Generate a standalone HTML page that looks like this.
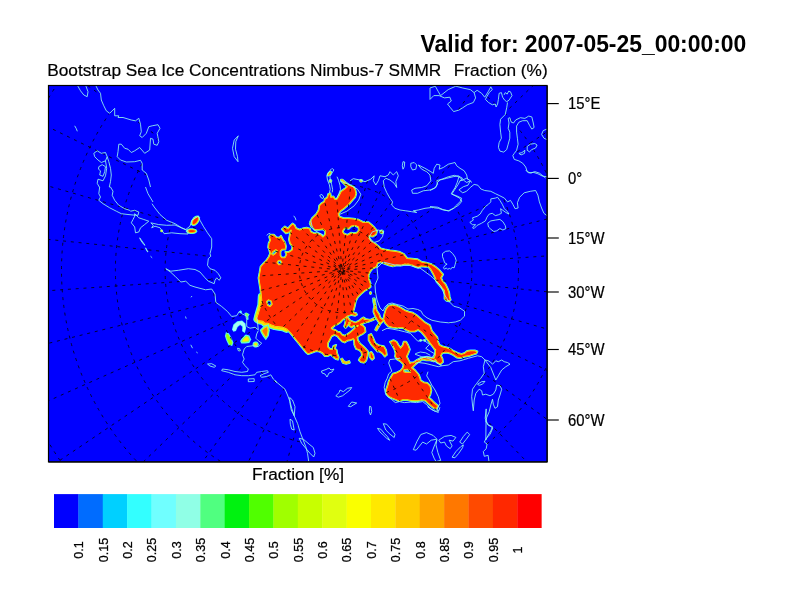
<!DOCTYPE html>
<html><head><meta charset="utf-8"><title>Sea Ice</title>
<style>html,body{margin:0;padding:0;background:#fff}svg{display:block}text{font-family:"Liberation Sans",Arial,Helvetica,sans-serif;fill:#000}</style></head><body>
<svg width="792" height="612" viewBox="0 0 792 612">
<rect width="792" height="612" fill="#fff"/>
<defs><clipPath id="fr"><rect x="48.5" y="85.5" width="498.5" height="376.3"/></clipPath>
<clipPath id="oc"><path clip-rule="evenodd" d="M48.5,461.8L308.7,461.8L308.7,461.5L307.5,453.3L305.8,446.7L302.5,438.3L300.0,431.7L297.5,423.3L294.2,415.8L291.7,408.3L290.0,401.7L287.5,395.0L285.0,389.2L280.0,385.0L276.0,381.7L273.3,379.0L270.8,374.8L266.7,376.5L261.7,377.3L260.0,375.7L263.3,374.0L268.3,372.3L267.5,370.7L261.7,371.5L256.7,372.3L255.0,374.8L248.3,375.7L241.7,375.7L235.0,374.8L228.3,372.3L221.7,370.7L222.5,369.0L228.3,369.8L235.0,371.5L241.7,372.3L247.5,371.5L248.3,369.0L245.0,365.7L242.5,362.3L244.2,359.0L242.5,354.8L244.2,349.0L246.7,346.5L253.3,345.7L258.3,346.5L261.7,343.2L258.3,340.7L255.8,338.2L256.7,334.0L258.3,330.7L258.1,329.7L255.0,327.3L250.0,328.2L246.7,326.5L246.7,319.8L245.8,315.7L242.5,314.0L239.2,311.5L236.7,315.7L231.7,316.5L227.5,311.5L221.7,306.5L215.8,302.3L215.0,294.0L211.7,289.0L205.6,289.8L195.0,287.0L190.0,285.3L185.8,281.2L180.8,282.0L175.0,276.2L170.8,272.3L165.8,268.7L170.8,271.2L178.3,270.3L188.3,268.7L195.0,269.5L200.0,272.0L205.0,277.8L208.3,281.2L214.2,283.7L215.0,280.3L216.7,277.8L219.2,280.3L220.8,277.8L218.3,273.7L215.0,270.3L210.0,268.7L207.5,265.3L208.3,258.7L210.8,256.2L210.0,253.7L211.7,247.0L211.7,238.7L207.5,232.8L203.3,226.2L200.0,220.3L198.3,216.2L191.7,220.3L190.0,226.2L185.8,229.5L181.7,227.8L175.0,223.7L166.7,220.3L160.0,214.5L154.2,207.0L153.0,202.0L148.0,193.7L150.5,187.0L148.8,180.0L146.3,173.3L142.2,170.0L142.2,163.3L140.5,160.3L134.7,161.7L126.3,162.0L120.5,160.0L117.2,156.7L118.0,151.7L118.8,144.2L121.3,144.2L124.7,148.3L128.0,149.2L131.3,152.5L134.7,150.8L139.7,147.5L144.7,153.3L149.7,150.0L150.5,138.3L153.0,139.2L153.8,144.2L157.2,145.3L158.8,141.7L157.2,133.3L160.0,128.3L158.0,124.7L152.2,125.8L148.8,126.7L146.3,133.3L142.2,137.5L139.7,135.8L141.3,131.7L140.5,124.2L138.8,118.3L135.5,120.8L131.3,120.0L123.0,117.5L118.0,117.5L118.8,115.8L114.7,115.8L114.7,108.3L109.7,113.3L106.3,110.8L103.8,105.8L101.3,100.0L100.5,93.3L98.0,90.0L95.8,85.5L48.5,85.5ZM490.8,85.5L490.8,86.8L492.3,89.6L489.2,92.6L487.0,96.4L485.4,99.4L488.5,102.5L492.3,104.8L495.3,104.0L496.1,107.0L497.6,104.0L498.4,99.4L499.1,93.3L501.4,92.6L502.6,97.2L504.7,100.2L506.7,101.7L507.0,101.5L507.5,102.5L506.7,107.8L505.2,114.6L500.6,119.2L499.9,124.5L500.6,132.1L501.4,138.2L499.1,142.7L498.4,147.3L499.9,151.1L503.7,152.1L506.7,149.6L508.2,144.2L509.8,138.2L509.8,132.1L508.2,128.3L509.0,123.0L508.2,118.4L509.8,117.7L511.3,122.2L513.5,123.0L515.8,119.9L520.4,117.7L524.9,118.4L528.7,116.1L531.8,116.9L533.3,123.0L534.1,127.5L531.8,129.1L529.5,125.3L527.2,120.7L522.7,120.7L518.9,122.2L516.6,126.0L516.6,132.1L517.4,138.2L518.1,144.2L516.6,150.3L514.3,153.4L512.8,155.6L514.3,159.4L518.9,160.9L522.7,163.2L525.7,167.0L527.2,171.6L531.0,173.1L534.8,171.6L539.4,173.1L543.2,176.1L545.5,178.0L547.0,178.0L547.0,85.5ZM547.0,215.7L543.9,213.3L541.6,208.0L539.4,201.9L537.9,195.1L535.6,190.5L530.3,191.3L524.2,192.8L519.6,197.3L517.4,202.7L518.1,208.0L515.1,208.7L512.8,204.2L510.5,200.4L507.5,201.9L504.4,198.1L499.9,195.8L495.3,193.6L490.8,191.3L484.7,190.5L480.9,189.0L477.9,185.2L474.1,184.4L470.3,187.5L466.5,191.3L462.7,192.8L458.9,189.8L461.7,198.3L460.0,201.7L456.7,205.0L453.3,208.3L448.3,210.8L443.3,210.0L438.3,208.3L431.7,207.5L425.0,208.3L418.3,210.0L413.3,210.8L416.7,212.5L411.7,211.7L405.8,210.8L400.0,210.0L395.0,208.3L391.7,205.0L392.5,201.7L390.0,198.3L386.7,192.5L384.2,186.7L383.3,180.8L385.8,178.3L390.0,180.0L394.2,183.3L396.7,187.5L395.8,181.7L398.3,175.8L396.7,171.7L393.3,175.0L390.0,171.7L388.3,175.0L385.0,176.7L380.0,175.8L378.3,180.8L375.8,185.0L373.3,180.8L374.2,175.8L370.8,179.2L365.0,181.7L360.0,180.0L353.3,178.7L350.0,180.8L343.3,180.0L342.7,179.5L342.7,179.5L342.7,179.5L342.6,179.5L342.6,179.5L342.6,179.5L342.6,179.5L342.5,179.4L341.0,179.4L341.0,179.5L341.0,179.5L340.9,179.5L340.9,179.5L340.9,179.5L340.8,179.5L340.8,179.5L340.8,179.5L340.8,179.6L340.8,179.6L340.7,179.6L340.7,179.6L340.7,179.7L340.7,179.7L340.7,179.7L340.7,179.8L340.7,179.8L340.7,179.8L340.7,179.8L341.2,181.4L341.2,181.4L341.3,181.4L341.3,181.4L341.3,181.5L341.3,181.5L344.3,184.5L346.6,186.8L344.4,188.6L340.8,191.1L340.8,191.2L340.8,191.2L340.8,191.2L340.8,191.2L340.7,191.3L338.7,195.3L336.8,198.7L335.1,198.7L333.7,196.3L333.7,196.3L333.6,196.3L333.6,196.2L333.6,196.2L333.6,196.2L333.5,196.2L333.5,196.2L333.5,196.2L333.5,196.2L333.4,196.2L333.4,196.2L333.4,196.2L331.1,196.6L330.7,193.4L330.7,193.3L330.7,193.3L330.7,193.3L330.6,193.3L330.6,193.2L330.6,193.2L330.6,193.2L330.6,193.2L330.5,193.2L330.5,193.1L330.5,193.1L330.5,193.1L330.4,193.1L330.4,193.1L330.4,193.1L330.3,193.1L330.3,193.1L328.3,193.6L328.3,193.6L328.2,193.6L328.2,193.7L328.2,193.7L328.2,193.7L328.1,193.7L328.1,193.7L328.1,193.8L328.1,193.8L328.1,193.8L328.1,193.8L327.1,197.3L324.7,198.7L324.6,198.8L324.6,198.8L324.6,198.8L324.6,198.8L324.5,198.8L324.5,198.9L324.5,198.9L324.5,198.9L324.0,201.3L321.6,202.8L321.6,202.8L321.6,202.8L319.0,205.4L319.0,205.4L319.0,205.4L319.0,205.4L319.0,205.5L319.0,205.5L318.9,205.5L318.9,205.5L318.4,210.0L316.0,214.0L311.9,218.0L311.9,218.0L311.9,218.1L311.9,218.1L309.9,221.8L309.9,221.9L309.8,221.9L309.8,221.9L309.5,223.5L309.5,223.6L309.5,223.6L309.5,223.6L309.5,223.6L309.5,223.7L309.5,223.7L309.5,223.7L311.0,226.8L311.0,226.8L311.0,226.8L311.1,226.8L311.1,226.9L314.6,229.9L314.6,229.9L314.7,229.9L314.7,229.9L314.7,230.0L314.7,230.0L314.8,230.0L314.8,230.0L318.9,230.0L318.9,230.0L322.8,229.5L325.1,231.3L324.7,234.6L322.9,236.3L321.1,234.5L321.1,234.5L321.1,234.5L321.0,234.5L321.0,234.5L317.5,232.9L317.4,232.9L317.4,232.9L317.4,232.9L317.3,232.9L313.9,232.9L311.0,231.5L310.0,228.6L310.0,228.5L310.0,228.5L310.0,228.5L310.0,228.5L310.0,228.4L309.9,228.4L309.9,228.4L309.9,228.4L309.8,228.4L306.8,227.4L306.8,227.4L306.7,227.4L306.7,227.4L306.7,227.4L306.7,227.4L303.6,227.9L303.6,227.9L303.6,227.9L299.6,229.3L296.3,227.9L294.8,225.0L294.8,225.0L294.8,224.9L294.8,224.9L294.8,224.9L294.7,224.9L292.7,223.3L292.7,223.3L292.7,223.3L292.6,223.3L292.6,223.3L292.6,223.3L292.6,223.3L292.5,223.3L292.5,223.3L292.5,223.3L292.4,223.3L292.4,223.3L292.4,223.3L292.4,223.3L292.3,223.4L292.3,223.4L289.8,225.9L289.8,225.9L287.9,228.3L285.1,226.4L285.1,226.4L285.1,226.4L285.0,226.3L285.0,226.3L285.0,226.3L284.9,226.3L284.9,226.3L284.9,226.3L284.9,226.3L284.8,226.4L284.8,226.4L284.8,226.4L284.7,226.4L281.7,228.9L281.7,228.9L281.7,229.0L281.6,229.0L281.6,229.0L281.6,229.0L281.6,229.1L281.6,229.1L281.6,229.1L281.6,229.2L281.6,229.2L281.6,229.2L281.6,229.2L281.6,229.3L281.6,229.3L281.7,229.3L281.7,229.3L281.7,229.4L283.7,231.4L283.7,231.4L285.7,233.4L285.8,233.5L285.8,233.5L285.8,233.5L285.8,233.5L285.9,233.5L285.9,233.5L285.9,233.5L286.0,233.5L286.0,233.5L286.0,233.5L286.0,233.5L289.1,232.5L289.1,232.5L289.1,232.5L289.2,232.4L289.2,232.4L289.2,232.4L290.5,231.2L289.7,234.2L289.7,234.2L288.7,239.2L288.7,239.3L288.7,239.3L288.7,239.3L288.7,239.4L289.7,243.4L289.7,243.4L289.7,243.5L289.7,243.5L289.8,243.5L289.8,243.5L292.2,246.5L291.8,249.7L288.9,251.6L285.4,251.6L285.4,251.7L285.4,251.7L285.4,251.7L285.3,251.7L285.3,251.7L285.3,251.7L285.3,251.7L285.2,251.7L285.2,251.8L285.2,251.8L285.2,251.8L285.2,251.8L285.2,251.9L285.1,251.9L285.1,251.9L285.1,251.9L285.1,252.0L285.1,252.0L285.2,252.0L285.2,252.1L286.1,254.5L284.8,257.2L282.1,257.2L280.7,255.4L280.7,251.6L282.5,249.7L285.4,249.7L285.5,249.7L285.5,249.7L285.5,249.7L285.6,249.7L285.6,249.7L285.6,249.7L285.6,249.6L285.7,249.6L285.7,249.6L285.7,249.6L285.7,249.6L285.7,249.5L285.7,249.5L285.7,249.5L286.2,246.4L286.2,246.4L286.2,246.4L286.2,246.3L286.2,246.3L285.2,242.3L285.2,242.2L285.2,242.2L285.2,242.2L285.2,242.1L283.2,239.6L281.2,235.6L281.1,235.6L281.1,235.6L281.1,235.5L281.1,235.5L281.1,235.5L281.0,235.5L281.0,235.5L281.0,235.5L281.0,235.5L280.9,235.5L280.9,235.5L280.9,235.5L280.8,235.5L280.8,235.5L280.8,235.5L280.8,235.5L280.7,235.5L280.7,235.5L280.7,235.5L280.7,235.5L280.7,235.6L279.2,237.4L276.5,237.0L274.0,234.5L274.0,234.5L274.0,234.5L273.9,234.5L273.9,234.5L273.9,234.4L273.9,234.4L273.8,234.4L273.8,234.4L270.8,234.4L270.7,234.4L270.7,234.4L270.7,234.4L270.6,234.5L270.6,234.5L270.6,234.5L270.6,234.5L270.5,234.5L270.5,234.6L269.0,236.6L269.0,236.6L269.0,236.6L269.0,236.7L268.9,236.7L268.9,236.7L268.9,236.8L268.9,236.8L268.9,236.8L269.0,236.8L269.9,240.3L268.5,243.2L268.4,243.2L268.4,243.3L268.4,243.3L267.9,247.4L267.9,247.4L267.9,247.4L267.9,247.4L267.9,247.5L267.9,247.5L268.0,247.5L269.0,249.5L269.9,253.4L268.5,256.9L266.0,260.4L263.5,262.9L263.4,262.9L260.4,266.4L260.4,266.5L260.4,266.5L260.4,266.5L260.3,266.5L260.3,266.6L260.3,266.6L259.3,272.7L258.3,277.9L258.3,277.9L258.3,278.0L258.3,278.0L258.3,278.0L260.2,290.0L260.7,295.1L260.7,295.1L261.2,300.1L260.2,305.1L258.7,310.2L257.2,315.2L255.7,319.3L255.7,319.3L255.7,319.3L255.7,319.4L255.7,319.4L255.7,319.4L255.7,319.4L255.7,319.5L255.7,319.5L255.7,319.5L255.7,319.5L255.7,319.6L255.7,319.6L255.8,319.6L255.8,319.6L255.8,319.6L258.9,321.2L258.9,321.2L258.9,321.2L258.9,321.2L262.4,321.7L264.3,323.6L264.4,323.7L264.4,323.7L264.4,323.7L264.4,323.7L264.5,323.7L264.5,323.7L264.5,323.7L264.6,323.7L267.5,323.7L270.5,325.2L270.5,325.2L274.6,326.7L274.6,326.8L274.6,326.8L278.7,327.3L282.7,327.8L286.7,329.7L289.6,332.7L292.7,336.3L292.7,336.3L292.7,336.3L292.8,336.4L292.8,336.5L292.8,336.5L292.8,336.5L296.9,341.6L296.9,341.6L301.9,347.7L306.0,352.7L306.0,352.7L306.0,352.8L306.0,352.8L308.1,354.3L308.1,354.3L308.1,354.3L308.1,354.3L308.2,354.3L308.2,354.3L308.2,354.3L308.2,354.3L308.3,354.3L308.3,354.3L308.3,354.3L312.4,352.8L316.4,351.3L319.3,351.8L322.2,353.3L324.7,356.3L324.7,356.3L324.8,356.3L324.8,356.3L324.8,356.3L324.8,356.4L324.9,356.4L324.9,356.4L324.9,356.4L324.9,356.4L327.5,356.4L327.5,356.4L327.5,356.4L327.6,356.4L327.6,356.4L327.6,356.3L328.1,356.1L332.3,356.4L333.3,357.3L333.4,357.3L335.9,359.3L335.9,359.4L335.9,359.4L336.0,359.4L336.0,359.4L338.0,359.9L338.1,359.9L338.1,359.9L338.1,359.9L338.1,359.9L338.2,359.9L338.2,359.9L338.2,359.9L338.3,359.9L338.3,359.9L338.3,359.8L338.3,359.8L338.3,359.8L338.4,359.8L338.4,359.7L338.4,359.7L338.4,359.7L338.9,357.1L338.9,357.1L338.9,357.1L338.9,357.1L338.9,357.0L338.9,357.0L338.9,357.0L337.4,353.5L336.9,350.0L336.9,349.9L336.9,349.9L336.9,349.9L336.8,349.8L336.8,349.8L336.8,349.8L336.8,349.8L336.8,349.8L334.9,348.4L336.4,345.1L336.4,345.0L336.4,345.0L336.4,345.0L336.4,344.9L336.4,344.9L336.4,344.9L336.4,344.9L336.4,344.8L336.3,344.8L336.3,344.8L336.3,344.8L336.3,344.7L336.3,344.7L336.3,344.7L336.2,344.7L336.2,344.7L336.2,344.7L336.1,344.6L336.1,344.6L336.1,344.6L336.1,344.6L336.0,344.6L336.0,344.7L336.0,344.7L333.4,345.7L333.4,345.7L333.4,345.7L333.4,345.7L333.3,345.7L333.3,345.8L333.3,345.8L333.3,345.8L333.3,345.8L333.3,345.9L332.3,348.7L330.1,348.7L328.3,346.8L328.3,343.0L330.3,339.5L330.3,339.5L331.7,336.6L334.6,335.1L337.4,336.6L339.4,339.0L339.4,339.1L341.9,341.6L342.0,341.6L342.0,341.6L342.0,341.7L342.0,341.7L344.6,342.7L344.6,342.7L344.6,342.7L344.7,342.7L344.7,342.7L344.7,342.7L344.7,342.7L344.8,342.7L344.8,342.7L344.8,342.7L344.8,342.7L347.8,340.7L350.8,340.2L350.8,340.2L350.9,340.1L353.2,339.2L353.9,340.4L353.8,340.6L353.8,340.6L353.8,340.7L353.8,340.7L353.8,340.7L353.8,340.8L353.8,340.8L354.1,343.8L354.0,344.4L354.0,344.4L354.0,344.4L354.0,344.5L354.0,344.5L354.0,344.5L354.0,344.5L354.0,344.6L354.1,344.6L354.2,344.8L354.3,345.4L354.3,345.4L354.3,345.4L354.3,345.4L355.8,349.0L355.8,349.0L355.8,349.0L355.8,349.1L355.9,349.1L355.9,349.1L355.9,349.1L355.9,349.1L356.0,349.1L356.0,349.1L358.9,350.1L361.4,352.6L361.8,355.7L360.2,357.4L360.2,357.4L360.1,357.4L360.1,357.4L359.9,357.7L359.4,358.3L359.4,358.3L359.4,358.3L359.4,358.3L359.3,358.4L359.3,358.4L359.3,358.4L359.3,358.5L359.3,358.5L359.3,358.5L359.3,358.5L359.3,358.6L359.4,358.7L358.6,360.0L358.6,360.0L358.6,360.0L345.2,358.6L350.0,360.0L362.0,364.0L372.0,366.0L385.0,365.0L389.0,363.8L390.2,367.2L391.8,371.2L388.7,373.8L387.2,378.3L385.2,382.4L384.2,387.4L385.2,392.5L385.9,393.6L385.9,394.0L385.9,394.1L385.9,394.1L385.9,394.1L385.9,394.1L385.9,394.2L386.0,394.2L386.0,394.2L386.0,394.2L386.7,395.0L387.7,396.6L391.8,399.6L395.3,402.6L399.4,401.6L404.4,402.6L410.5,402.1L416.6,402.6L422.7,401.6L426.7,404.7L428.8,406.7L427.5,406.7L431.7,409.7L433.6,410.5L434.8,411.2L435.2,411.2L438.3,412.5L438.0,410.8L438.9,410.7L439.9,407.2L438.1,407.1L440.0,403.3L438.3,396.7L435.0,390.0L431.7,385.0L429.2,380.0L426.7,375.8L428.0,371.7L420.2,361.2L422.6,359.8L426.2,360.5L426.3,360.5L426.3,360.5L430.0,360.5L433.8,361.7L433.8,361.7L433.9,361.7L433.9,361.7L433.9,361.7L433.9,361.7L434.0,361.7L434.0,361.7L434.0,361.6L434.0,361.6L434.1,361.6L434.1,361.6L434.1,361.6L434.3,361.3L435.0,361.7L441.7,365.8L448.3,365.0L453.3,361.7L460.0,360.8L468.3,358.3L477.5,355.8L481.7,356.7L485.0,360.0L483.3,366.7L484.2,373.3L480.8,378.3L476.7,383.3L472.5,389.2L471.7,396.7L472.5,405.0L473.3,410.8L474.2,400.0L475.8,393.3L479.2,389.2L481.7,390.8L482.5,395.0L485.8,394.2L490.0,395.8L493.3,394.2L495.8,390.0L496.7,385.0L500.0,385.8L501.7,389.2L500.0,395.0L498.3,400.0L497.5,406.7L495.0,408.3L493.3,404.2L492.5,399.2L490.8,405.0L489.2,411.7L486.7,417.5L486.1,420.4L487.7,424.1L488.3,425.0L492.5,426.7L492.2,427.5L492.8,427.9L490.0,434.5L487.2,437.3L485.8,440.0L485.8,439.0L484.3,442.1L487.1,444.0L486.2,448.7L483.3,451.6L484.3,456.3L488.1,455.3L489.0,461.6L489.0,461.8L547.0,461.8ZM339.4,323.3L340.8,322.4L340.8,322.4L340.8,322.4L340.9,322.3L341.8,321.2L344.1,319.1L345.3,318.4L345.3,320.7L345.0,323.4L343.9,326.2L343.9,326.3L343.9,326.3L343.9,326.3L343.9,326.3L343.9,326.4L343.9,326.4L343.9,326.4L343.9,326.5L343.9,326.5L343.9,326.5L344.0,326.5L344.0,326.6L345.4,328.0L345.4,328.0L345.4,328.0L345.5,328.0L345.5,328.0L345.5,328.0L345.6,328.0L345.6,328.0L345.6,328.0L345.6,328.0L345.7,328.0L345.7,328.0L345.7,328.0L345.8,328.0L345.8,328.0L345.8,328.0L345.8,328.0L347.2,326.6L347.3,326.5L348.5,325.0L350.0,326.6L350.0,326.6L350.1,326.6L351.8,327.7L351.8,327.7L351.9,327.7L351.9,327.7L351.9,327.7L352.0,327.7L352.0,327.7L352.0,327.7L352.0,327.7L352.1,327.7L352.1,327.7L352.1,327.7L352.1,327.6L352.2,327.6L352.2,327.6L352.2,327.6L353.4,326.1L355.5,326.6L353.6,329.0L350.6,331.5L347.1,334.0L344.7,335.5L342.3,334.6L340.4,332.1L340.3,332.1L340.3,332.1L340.3,332.0L340.3,332.0L340.2,332.0L340.2,332.0L340.2,332.0L337.7,331.5L335.8,330.0L335.7,330.0L335.7,330.0L335.7,330.0L333.0,329.1ZM368.0,291.0L370.2,293.8L372.0,292.0L376.0,300.0L378.3,303.4L377.0,300.0L375.5,292.0L375.0,285.0L378.0,278.0L377.0,268.0L382.0,263.0L384.6,264.0L388.6,265.5L388.7,265.5L392.7,266.5L392.7,266.5L392.8,266.5L392.8,266.5L392.8,266.5L392.9,266.5L396.9,265.5L400.4,265.9L400.5,265.9L400.5,265.9L400.5,265.9L400.6,265.9L402.2,265.5L402.2,265.5L402.9,265.3L410.0,265.5L413.9,266.5L415.1,267.0L415.1,267.1L418.1,268.1L418.2,268.1L418.2,268.1L418.2,268.1L418.3,268.1L418.3,268.1L418.3,268.1L418.3,268.1L418.4,268.1L419.0,267.8L420.0,268.0L430.9,276.0L436.0,281.0L436.2,281.6L436.2,281.6L436.2,281.6L436.2,281.7L438.8,284.7L438.8,284.7L441.3,287.7L441.7,288.2L444.2,294.0L444.3,294.6L444.3,298.7L444.3,298.7L444.3,298.7L444.3,298.8L444.3,298.8L444.3,298.8L444.3,298.8L444.3,298.9L444.3,298.9L446.4,300.9L446.4,300.9L446.4,301.0L446.4,301.0L446.5,301.0L446.5,301.0L446.5,301.0L449.1,301.5L449.1,301.5L449.1,301.5L449.1,301.5L453.7,306.2L459.5,307.8L464.5,311.2L464.5,316.2L460.3,320.3L455.3,322.0L448.7,322.8L440.3,322.0L432.0,320.3L427.0,317.8L422.8,314.5L421.2,311.2L417.8,309.5L413.0,308.5L408.0,309.0L403.0,306.0L397.0,304.5L392.0,303.0L388.0,304.0L385.0,307.0L383.1,310.7L384.0,312.0L384.2,314.0L384.1,314.2L384.1,314.2L383.1,319.3L383.1,319.3L383.1,319.4L383.1,319.4L383.1,319.4L383.1,319.4L380.6,317.7L379.4,314.2L379.4,314.2L379.4,314.1L376.8,310.1L376.2,306.2L376.2,306.2L375.0,298.6L375.0,298.5L375.0,298.5L375.0,298.5L375.0,298.5L374.9,298.4L374.9,298.4L374.9,298.4L374.9,298.4L374.9,298.3L374.8,298.3L374.8,298.3L374.8,298.3L374.7,298.3L374.7,298.3L373.1,298.3L373.1,298.3L373.0,298.3L373.0,298.3L373.0,298.3L373.0,298.3L372.9,298.4L372.9,298.4L372.9,298.4L372.9,298.4L372.8,298.4L372.8,298.5L372.8,298.5L372.8,298.5L372.8,298.5L372.8,298.6L372.8,298.6L372.8,298.6L372.8,298.7L374.0,306.8L374.2,308.1L373.9,308.0L373.9,307.9L373.9,307.9L373.8,307.9L373.8,307.9L373.8,307.9L373.7,307.9L373.7,307.9L373.7,308.0L373.7,308.0L373.6,308.0L373.6,308.0L373.6,308.0L373.6,308.0L373.5,308.1L373.5,308.1L373.5,308.1L373.5,308.1L373.5,308.2L373.5,308.2L373.2,311.9L373.2,311.9L373.2,311.9L373.2,311.9L373.2,312.0L373.2,312.0L374.8,316.1L374.8,316.2L376.9,319.8L376.9,319.8L378.7,322.6L378.7,322.6L378.7,322.6L378.8,322.6L378.8,322.7L378.8,322.7L378.8,322.7L378.9,322.7L378.9,322.7L379.1,322.8L376.6,326.3L376.6,326.3L376.6,326.3L375.0,329.6L375.0,329.6L375.0,329.6L375.0,329.7L375.0,329.7L375.0,329.7L375.0,329.8L375.0,329.8L375.0,329.8L375.1,329.8L375.1,329.9L375.1,329.9L375.1,329.9L375.1,329.9L375.2,329.9L376.4,330.8L376.4,330.8L376.4,330.8L376.4,330.8L376.5,330.8L376.5,330.8L376.5,330.8L376.6,330.8L376.6,330.8L376.6,330.8L376.6,330.8L376.7,330.8L376.7,330.8L376.7,330.7L376.7,330.7L376.8,330.7L376.8,330.7L376.8,330.6L378.1,328.1L380.6,324.1L383.8,320.9L385.2,323.6L385.2,323.6L385.2,323.6L385.2,323.6L385.3,323.7L385.9,329.5L390.0,327.1L392.5,327.8L392.5,327.8L397.6,328.3L397.6,328.3L397.7,328.3L402.0,330.0L412.0,333.0L420.0,336.0L428.0,343.0L434.0,351.0L432.0,357.0L430.7,357.4L429.4,357.3L424.8,356.9L424.8,356.9L424.8,356.9L424.7,356.9L420.9,357.7L420.9,357.7L420.9,357.7L420.9,357.7L417.1,359.6L417.1,359.6L417.0,359.6L414.0,361.7L409.4,361.2L408.5,359.4L408.5,359.4L407.0,356.5L408.5,353.6L408.5,353.5L410.0,349.5L410.0,349.4L410.0,349.4L410.0,349.4L410.0,349.4L410.0,349.3L410.0,349.3L410.0,349.3L408.5,345.2L408.5,345.2L408.5,345.2L406.5,341.6L406.4,341.6L406.4,341.6L406.4,341.6L406.4,341.5L406.4,341.5L406.3,341.5L406.3,341.5L406.3,341.5L406.3,341.5L406.2,341.5L406.2,341.5L403.7,341.5L403.6,341.5L403.6,341.5L403.6,341.5L403.6,341.5L403.5,341.5L403.5,341.5L403.5,341.5L403.5,341.6L403.4,341.6L403.4,341.6L403.4,341.6L403.4,341.7L403.4,341.7L402.4,345.2L400.6,347.4L398.9,345.2L396.8,341.6L396.8,341.6L396.8,341.6L396.8,341.6L396.8,341.5L396.7,341.5L396.7,341.5L393.7,340.0L393.6,340.0L393.6,340.0L393.6,340.0L393.6,340.0L393.5,340.0L393.5,340.0L393.5,340.0L393.4,340.0L393.4,340.0L389.9,341.5L389.9,341.5L389.8,341.5L389.8,341.5L389.8,341.6L389.8,341.6L389.7,341.6L389.7,341.6L389.7,341.7L389.7,341.7L389.7,341.7L389.7,341.7L389.7,341.8L389.7,341.8L389.7,341.8L389.7,341.9L389.7,341.9L389.7,341.9L389.8,341.9L391.8,345.0L394.3,349.5L395.3,353.4L394.8,356.4L394.8,356.4L394.8,356.5L394.8,356.5L394.8,356.5L394.8,356.6L394.8,356.6L394.8,356.6L394.8,356.6L396.8,359.7L396.9,359.7L396.9,359.7L396.9,359.7L396.9,359.7L396.9,359.8L398.9,360.9L395.0,364.0L366.3,360.9L366.4,360.7L366.4,360.7L366.4,360.7L366.5,360.7L366.5,360.6L366.5,360.6L366.5,360.6L366.5,360.5L366.5,360.5L366.5,360.5L366.5,360.5L366.5,360.4L366.4,360.2L366.7,359.8L366.7,359.8L366.7,359.7L366.7,359.7L366.8,359.7L367.8,355.6L367.8,355.6L368.3,351.6L368.3,351.5L368.3,351.5L368.3,351.5L368.3,351.4L368.2,351.4L368.2,351.4L368.2,351.4L368.2,351.3L365.7,348.3L365.7,348.3L363.1,345.7L363.1,345.7L360.1,343.2L358.1,340.3L357.7,337.5L360.0,335.6L363.0,334.1L363.1,334.1L363.1,334.0L365.6,332.0L365.7,332.0L365.7,332.0L365.7,331.9L365.7,331.9L365.7,331.9L365.7,331.9L365.7,331.8L365.7,331.8L365.7,331.8L365.7,331.7L365.2,327.7L365.2,327.7L365.2,327.6L365.2,327.6L365.2,327.6L365.2,327.6L365.2,327.5L365.2,327.5L362.6,325.0L362.6,325.0L362.6,324.9L362.5,324.9L362.5,324.9L361.4,324.5L365.3,322.9L368.3,322.2L368.3,322.2L372.4,320.7L372.4,320.6L375.5,319.1L375.5,319.1L375.5,319.1L375.5,319.1L375.5,319.1L375.6,319.0L375.6,319.0L375.6,319.0L375.6,319.0L375.6,318.9L375.6,318.9L375.6,318.9L375.6,318.8L375.6,318.8L375.6,318.8L375.6,318.7L375.6,318.7L375.6,318.7L375.6,318.7L375.5,318.6L374.5,317.6L374.5,317.6L374.5,317.6L374.4,317.6L374.4,317.6L374.4,317.6L374.4,317.6L374.3,317.6L374.3,317.6L374.3,317.6L374.2,317.6L374.2,317.6L374.2,317.6L374.2,317.6L370.2,319.6L365.2,318.8L365.2,318.8L365.2,318.8L365.1,318.8L365.1,318.8L365.1,318.8L364.8,318.9L365.0,318.3L365.0,318.3L365.0,318.2L365.0,318.2L365.0,318.2L365.0,318.2L365.0,318.1L365.0,318.1L365.0,318.1L364.9,318.0L364.9,318.0L364.9,318.0L364.9,318.0L364.9,318.0L364.8,317.9L363.4,317.2L363.4,317.2L363.4,317.2L363.3,317.2L363.3,317.2L363.3,317.2L363.3,317.2L363.2,317.2L363.2,317.2L363.2,317.2L363.1,317.2L363.1,317.3L361.0,318.7L361.0,318.7L358.9,320.4L356.1,321.8L354.9,322.1L350.6,320.3L349.4,319.1L348.0,317.0L348.0,317.0L347.9,316.9L347.9,316.9L347.9,316.9L347.9,316.9L347.8,316.9L347.8,316.9L347.8,316.8L347.8,316.8L347.7,316.8L347.7,316.8L347.7,316.8L347.6,316.9L347.6,316.9L347.6,316.9L346.5,317.4L347.9,316.3L350.9,315.3L350.9,315.3L350.9,315.3L350.9,315.3L351.0,315.3L351.0,315.3L351.0,315.2L351.0,315.2L351.0,315.2L351.9,315.3L355.1,316.0L355.1,316.0L355.2,316.0L355.2,316.0L355.2,316.0L355.2,316.0L355.3,316.0L355.3,316.0L355.3,316.0L357.1,314.9L357.1,314.9L357.1,314.9L357.1,314.9L357.2,314.8L357.2,314.8L357.2,314.8L357.2,314.8L357.2,314.7L357.2,314.7L357.2,314.7L357.2,314.7L357.2,314.6L357.2,314.6L357.2,314.6L357.2,314.5L356.5,313.1L356.5,313.1L356.5,313.1L356.4,313.0L356.4,313.0L356.4,313.0L356.4,313.0L356.4,313.0L356.3,313.0L356.3,313.0L353.9,312.3L353.3,311.1L353.8,310.5L353.8,310.5L353.8,310.5L353.8,310.5L354.1,309.9L354.1,309.8L354.1,309.8L355.1,305.8L355.1,305.8L356.1,301.2L358.1,297.3L361.1,294.3L363.6,292.1ZM482.4,210.3L488.5,204.2L490.8,198.9L497.6,197.3L502.2,204.2L509.0,214.1L501.4,213.3L495.3,215.6L489.2,214.1L485.4,220.9L474.1,228.5L469.8,222.4L477.1,216.3ZM444.6,262.7L442.5,256.7L442.5,253.6L445.6,251.3L449.6,250.9L452.7,253.6L455.2,257.2L456.2,260.7L455.2,264.2L454.2,267.8L450.6,269.3L446.1,267.8L443.5,267.8ZM349.3,322.8L349.7,322.8L349.7,323.4L349.4,323.5ZM486.2,408.9L485.2,418.4L486.0,420.3ZM485.8,421.7L486.0,421.9L486.0,420.6ZM439.1,95.6L444.4,97.9L449.8,97.2L451.3,101.0L447.5,104.0L450.5,107.8L453.6,111.6L458.9,110.1L462.7,107.8L467.2,104.8L473.3,102.5L475.6,97.9L474.1,92.6L470.3,89.6L462.7,88.0L455.8,86.2L448.2,89.6L440.6,95.6L438.4,91.8L435.3,86.2L430.0,88.0L430.0,99.4L433.8,95.6ZM464.2,170.8L460.0,168.3L456.7,165.8L455.0,162.5L448.3,164.2L443.3,167.5L439.2,169.2L440.0,165.0L436.7,164.2L434.2,168.3L433.3,173.3L430.8,171.7L425.0,168.3L420.0,165.8L418.3,165.0L421.7,169.2L426.7,171.7L430.0,175.0L430.8,180.8L426.7,185.8L421.7,187.5L415.0,188.3L411.7,190.0L412.5,193.3L417.5,193.3L423.3,190.8L430.0,190.0L435.8,187.5L437.5,182.5L440.0,180.0L446.7,178.3L453.3,176.7L458.3,175.8L462.5,178.3L460.0,180.8L467.5,179.2L466.7,175.0ZM370.9,333.9L370.9,333.9L370.9,333.9L370.8,333.9L370.8,333.9L370.8,333.9L370.7,333.9L370.7,333.9L370.7,333.9L370.7,333.9L370.6,333.9L368.6,334.9L368.6,334.9L368.5,335.0L368.5,335.0L368.5,335.0L368.5,335.0L368.5,335.0L368.5,335.1L368.4,335.1L368.4,335.1L368.4,335.2L368.4,335.2L368.4,340.2L368.4,340.3L368.4,340.3L368.4,340.3L368.5,340.4L368.5,340.4L368.5,340.4L369.2,341.4L370.9,344.7L370.9,344.8L370.9,344.8L371.0,344.8L374.4,348.5L377.4,351.7L377.4,351.7L377.4,351.7L377.4,351.7L377.5,351.7L377.5,351.7L377.5,351.8L377.5,351.8L377.6,351.8L377.6,351.8L377.6,351.8L377.6,351.8L377.7,351.7L378.8,351.4L379.2,351.6L382.2,353.6L384.7,356.7L384.7,356.7L384.8,356.7L384.8,356.7L384.8,356.7L384.8,356.7L384.9,356.7L384.9,356.8L384.9,356.8L384.9,356.8L385.0,356.8L385.0,356.8L385.0,356.7L385.1,356.7L385.1,356.7L385.1,356.7L385.1,356.7L385.2,356.7L386.7,355.2L386.7,355.1L386.7,355.1L386.7,355.2L386.7,355.2L386.8,355.2L386.8,355.2L386.8,355.2L386.9,355.2L386.9,355.2L386.9,355.2L386.9,355.2L387.0,355.2L387.0,355.1L387.0,355.1L387.0,355.1L387.1,355.1L387.1,355.1L387.1,355.0L387.1,355.0L387.1,355.0L387.1,355.0L387.1,354.9L387.1,354.9L387.1,354.9L387.1,354.8L386.3,350.0L386.3,350.0L386.3,350.0L386.3,350.0L386.3,349.9L384.0,346.0L384.0,346.0L384.0,346.0L384.0,346.0L383.9,346.0L383.9,345.9L383.9,345.9L383.9,345.9L383.8,345.9L383.8,345.9L379.3,345.2L375.5,343.0L373.3,337.6L373.3,337.6L371.4,333.9L371.4,333.9L371.4,333.9L371.4,333.9L371.4,333.9L371.3,333.8L371.3,333.8L371.3,333.8L371.3,333.8L371.2,333.8L371.2,333.8L371.2,333.8L371.2,333.8L371.1,333.8L371.1,333.8L371.1,333.8L371.0,333.8L371.0,333.8L371.0,333.8L371.0,333.9L371.0,333.9L370.9,333.9L370.9,333.9L370.9,333.9ZM369.5,357.0L369.5,357.0L369.5,357.0L369.5,357.1L369.5,357.1L369.5,357.1L369.5,357.1L371.0,359.2L371.0,359.2L371.1,359.2L371.1,359.2L371.1,359.2L371.1,359.3L371.2,359.3L371.2,359.3L371.2,359.3L371.3,359.3L371.3,359.3L371.3,359.3L371.4,359.3L371.4,359.3L371.4,359.3L371.8,359.9L371.9,359.9L371.9,359.9L371.9,359.9L371.9,360.0L372.0,360.0L372.0,360.0L372.0,360.0L372.0,360.0L372.1,360.0L372.1,360.0L372.1,360.0L372.2,360.0L372.2,360.0L372.2,360.0L372.2,360.0L372.3,359.9L374.1,358.6L374.1,358.6L374.1,358.5L374.2,358.5L374.2,358.5L374.2,358.5L374.2,358.4L374.2,358.4L374.2,358.4L374.2,358.3L374.2,358.3L374.2,358.3L373.5,354.8L373.5,354.8L373.5,354.8L373.5,354.8L373.5,354.7L371.7,351.9L371.6,351.9L371.6,351.8L371.6,351.8L371.6,351.8L371.5,351.8L371.5,351.8L371.5,351.8L371.5,351.7L371.4,351.7L371.4,351.7L371.4,351.7L371.3,351.7L371.3,351.8L371.3,351.8L369.3,352.6L369.3,352.6L369.3,352.6L369.3,352.6L369.2,352.6L369.2,352.6L369.2,352.7L369.2,352.7L369.2,352.7L369.2,352.8L369.2,352.8L369.2,352.8L369.2,352.8L369.2,352.9L369.2,352.9L369.4,354.4L369.4,357.0ZM349.5,361.0L349.5,361.0L349.5,361.0L349.5,360.9L349.4,360.9L349.4,360.9L349.4,360.9L349.4,360.9L349.3,360.9L349.3,360.9L349.3,360.8L349.3,360.8L349.2,360.8L349.2,360.8L349.2,360.8L349.1,360.9L346.2,361.8L343.9,360.9L342.4,358.5L342.4,358.4L342.4,358.4L342.4,358.4L342.3,358.4L342.3,358.4L342.3,358.3L342.2,358.3L342.2,358.3L342.2,358.3L342.2,358.3L342.1,358.3L342.1,358.3L342.1,358.3L342.0,358.3L342.0,358.3L341.0,358.8L341.0,358.9L341.0,358.9L340.9,358.9L340.9,358.9L340.9,358.9L340.9,359.0L340.9,359.0L340.9,359.0L340.8,359.0L340.8,359.1L340.8,359.1L340.8,359.1L340.8,359.2L340.9,359.2L340.9,359.2L342.4,362.8L342.4,362.8L342.4,362.8L342.4,362.9L342.5,362.9L342.5,362.9L342.5,362.9L342.5,362.9L342.5,362.9L342.6,362.9L346.1,364.0L346.1,364.0L346.2,364.0L346.2,364.0L346.2,364.0L346.3,364.0L346.3,364.0L349.8,362.9L349.9,362.9L349.9,362.9L349.9,362.9L349.9,362.9L350.0,362.9L350.0,362.9L350.0,362.8L350.0,362.8L350.0,362.8L350.0,362.7L350.0,362.7L350.0,362.7L350.0,362.7L350.0,362.6L350.0,362.6L350.0,362.6L349.5,361.0Z"/></clipPath>
</defs>
<rect x="48.5" y="85.5" width="498.5" height="376.3" fill="#0000ff"/>
<g clip-path="url(#fr)">
<path d="M316.3,351.0L319.4,351.5L322.4,353.0L324.9,356.1L327.5,356.1L330.5,354.6L333.5,357.1L336.1,359.1L338.1,359.6L338.6,357.1L337.1,353.5L336.6,350.0L334.6,348.5L336.1,344.9L333.5,345.9L332.5,349.0L330.0,349.0L328.0,347.0L328.0,342.9L330.0,339.4L331.5,336.3L334.6,334.8L337.6,336.3L339.6,338.9L342.1,341.4L344.7,342.4L347.7,340.4L350.8,339.9L353.3,338.9L354.2,340.4L354.1,340.8L354.4,343.9L354.3,344.4L354.5,344.7L354.6,345.3L356.1,348.9L359.1,349.9L361.6,352.4L362.1,355.8L360.4,357.6L360.2,357.9L359.6,358.5L359.7,358.7L358.9,360.1L360.9,362.1L364.4,362.7L365.2,361.5L366.2,360.5L366.1,360.2L366.5,359.6L367.5,355.6L368.0,351.5L365.4,348.5L362.9,345.9L359.9,343.4L357.9,340.4L357.3,337.3L359.9,335.3L362.9,333.8L365.4,331.8L364.9,327.7L362.4,325.2L360.6,324.5L365.2,322.6L368.2,321.9L372.3,320.4L375.3,318.9L374.3,317.9L370.2,319.9L365.2,319.1L364.3,319.4L364.7,318.2L363.3,317.5L361.2,318.9L359.1,320.7L356.2,322.1L354.9,322.4L350.4,320.6L349.1,319.3L347.7,317.1L345.6,318.2L345.6,320.7L345.2,323.5L344.2,326.3L345.6,327.8L347.0,326.3L348.4,324.6L350.2,326.3L352.0,327.4L353.3,325.8L356.1,326.5L358.0,325.6L357.9,325.7L355.8,326.7L353.8,329.2L350.8,331.8L347.2,334.3L344.7,335.8L342.1,334.8L340.1,332.3L337.6,331.8L335.6,330.2L332.5,329.2L331.5,328.2L334.6,325.7L337.6,324.2L340.6,322.1L342.7,319.6L345.2,318.1L347.7,316.1L350.8,315.1L350.8,314.9L352.0,315.0L355.2,315.7L356.9,314.7L356.2,313.2L353.7,312.6L352.9,311.1L353.5,310.3L353.8,309.8L354.8,305.7L355.8,301.1L357.9,297.1L360.9,294.1L364.4,291.0L368.0,289.0L370.5,287.0L370.5,283.4L369.0,279.4L368.5,275.3L370.0,271.8L372.5,268.7L376.6,266.7L377.6,263.2L380.6,262.1L384.7,263.7L388.7,265.2L392.8,266.2L396.8,265.2L400.5,265.6L402.1,265.2L404.9,264.2L406.4,264.5L408.1,264.2L412.1,265.3L415.2,266.8L418.2,267.8L421.3,266.3L425.3,266.8L428.4,266.8L430.9,269.8L432.9,273.4L434.9,277.4L436.5,281.5L439.0,284.5L441.5,287.5L444.1,290.6L444.6,294.6L444.6,298.7L446.6,300.7L449.1,301.2L450.6,299.7L449.6,296.7L449.1,292.6L447.6,288.6L445.6,284.5L442.5,281.0L441.0,277.9L443.0,274.4L439.5,270.3L435.4,266.8L431.4,264.2L426.3,262.7L421.3,261.7L417.2,259.2L412.1,258.7L407.1,258.2L403.9,254.1L399.9,252.1L394.8,251.1L389.8,250.6L384.7,249.5L380.6,248.5L378.1,246.0L375.1,243.5L371.5,240.9L369.0,237.9L369.5,235.9L373.0,236.4L376.1,234.3L377.1,230.8L374.6,227.8L371.5,224.7L368.5,222.2L362.8,222.0L358.7,219.8L353.7,218.7L348.6,218.2L343.5,218.2L339.5,216.7L338.5,213.7L340.5,211.1L344.6,208.1L348.6,204.6L352.1,200.5L355.2,197.0L356.2,193.4L355.2,189.4L353.2,186.3L349.6,185.3L346.1,182.8L342.5,179.8L341.0,179.8L341.5,181.3L344.6,184.3L347.1,186.8L344.6,188.9L341.0,191.4L339.0,195.4L337.0,199.0L334.9,199.0L333.4,196.5L330.9,197.0L330.4,193.4L328.4,193.9L327.3,197.5L324.8,199.0L324.3,201.5L321.8,203.0L319.2,205.6L318.7,210.1L316.2,214.2L312.1,218.2L310.1,222.0L309.8,223.6L311.3,226.6L314.8,229.7L318.9,229.7L322.9,229.2L325.4,231.2L324.9,234.7L322.9,236.8L320.9,234.7L317.3,233.2L313.8,233.2L310.8,231.7L309.8,228.7L306.7,227.7L303.7,228.2L299.6,229.7L296.1,228.2L294.6,225.1L292.5,223.6L290.0,226.1L288.0,228.7L284.9,226.6L281.9,229.2L283.9,231.2L285.9,233.2L289.0,232.2L291.0,230.2L290.0,234.2L289.0,239.3L290.0,243.3L292.5,246.4L292.0,249.9L289.0,251.9L285.4,251.9L286.5,254.5L284.9,257.5L281.9,257.5L280.4,255.5L280.4,251.4L282.4,249.4L285.4,249.4L285.9,246.4L284.9,242.3L282.9,239.8L280.9,235.8L279.4,237.8L276.3,237.3L273.8,234.7L270.8,234.7L269.2,236.8L270.2,240.3L268.7,243.3L268.2,247.4L269.2,249.4L270.2,253.5L268.7,257.0L266.2,260.6L263.7,263.1L260.6,266.6L259.6,272.7L258.6,278.0L260.5,290.0L261.0,295.1L261.5,300.1L260.5,305.2L259.0,310.2L257.5,315.3L255.9,319.4L259.0,320.9L262.5,321.4L264.6,323.4L267.6,323.4L270.6,324.9L274.7,326.5L278.7,327.0L282.8,327.5L286.8,329.5L289.9,332.5L292.9,336.1L293.0,336.1L293.0,336.3L297.1,341.4L302.1,347.5L306.2,352.5L308.2,354.1L312.3,352.5ZM349.1,323.9L349.0,322.4L350.0,322.4L350.0,322.5L350.0,323.7ZM356.8,232.8L353.8,233.3L350.8,232.8L347.7,234.9L344.2,233.8L342.7,231.8L343.2,230.3L345.2,227.8L348.7,228.8L351.3,226.2L355.3,225.8L358.4,227.3L358.9,230.3ZM277.3,262.6L278.4,260.8L280.4,260.6L281.6,262.1L280.9,264.1L278.9,264.6ZM273.1,255.0L271.8,254.0L272.8,251.9L275.8,249.9L277.1,250.9L275.3,253.3ZM270.1,306.2L267.8,305.2L266.8,301.6L268.6,300.1L271.1,301.1L271.9,304.2ZM369.8,357.0L371.3,359.0L371.4,358.8L372.1,359.7L373.9,358.3L373.2,354.9L371.4,352.0L369.5,352.8L369.8,354.4ZM349.2,361.1L346.2,362.1L343.7,361.1L342.1,358.6L341.1,359.1L342.7,362.7L346.2,363.7L349.8,362.7ZM373.8,308.2L373.5,311.9L375.1,316.0L377.1,319.7L378.9,322.4L379.6,322.6L379.4,322.9L376.8,326.5L375.3,329.7L376.5,330.5L377.9,328.0L380.4,323.9L383.9,320.4L380.4,317.9L379.2,314.3L376.5,310.2L375.9,306.2L374.7,298.6L373.1,298.6L374.3,306.7L374.5,308.5ZM392.5,327.5L397.6,328.0L402.7,328.0L406.2,330.0L409.8,331.5L414.8,331.5L418.1,329.8L421.1,331.8L424.2,335.3L427.2,339.4L430.2,343.4L433.3,347.5L435.3,350.5L435.4,349.6L435.0,354.9L433.9,358.0L429.3,357.6L424.8,357.2L421.0,358.0L417.2,359.9L413.4,362.5L410.4,362.5L410.1,363.3L409.8,362.5L408.2,359.5L406.7,356.5L408.2,353.4L409.8,349.4L408.2,345.3L406.2,341.8L403.7,341.8L402.7,345.3L400.6,347.9L398.6,345.3L396.6,341.8L393.5,340.2L390.0,341.8L392.0,344.8L394.6,349.4L395.6,353.4L395.1,356.5L397.1,359.5L400.6,361.5L403.7,364.6L402.7,368.1L400.6,370.6L396.3,372.8L392.8,373.8L390.8,377.3L388.7,381.4L387.7,385.4L386.2,389.5L386.2,394.0L388.7,396.6L391.8,398.1L395.3,399.6L398.9,401.1L402.4,400.1L407.5,400.1L412.5,401.1L417.6,401.1L421.6,400.1L425.2,400.6L427.7,403.1L430.8,405.7L433.8,408.2L436.8,408.7L437.9,405.7L434.8,403.1L431.8,400.1L428.7,397.6L430.2,395.0L431.3,390.5L430.2,385.9L427.2,382.9L423.7,382.4L420.6,380.4L420.2,378.4L418.7,374.6L414.9,370.1L411.9,367.8L414.9,364.8L418.7,361.8L422.5,359.5L426.3,360.2L430.1,360.2L433.9,361.4L435.3,359.6L437.3,362.7L440.4,364.2L442.9,362.1L442.4,358.6L440.9,355.6L442.4,353.0L446.5,352.5L450.5,353.5L453.5,355.1L457.1,357.6L460.6,358.1L464.7,356.6L468.7,356.1L472.8,354.6L476.3,353.5L477.3,351.5L474.8,350.5L470.8,350.5L467.2,351.0L464.7,353.0L461.6,354.1L457.6,353.0L453.5,351.0L450.5,349.0L446.5,347.5L442.4,346.5L439.4,344.9L437.9,341.4L437.3,337.3L434.8,334.3L431.8,330.8L430.0,325.4L424.9,322.4L420.9,318.9L416.8,315.3L412.8,312.8L408.7,311.8L404.7,310.2L400.6,307.7L396.6,305.7L392.5,304.7L388.5,305.7L385.9,309.2L384.4,314.3L383.4,319.4L385.4,323.4L388.5,326.5ZM404.2,371.8L403.9,370.0L407.0,369.4L410.0,370.7L410.3,372.1L407.0,372.2ZM378.8,351.0L379.4,351.4L382.4,353.4L384.9,356.5L386.5,354.9L386.3,354.5L386.8,354.9L386.0,350.1L383.8,346.2L379.2,345.5L375.3,343.2L373.0,337.7L371.2,334.1L370.9,334.6L370.8,334.2L368.7,335.2L368.7,340.2L369.4,341.3L371.2,344.6L374.6,348.3L377.6,351.5Z" fill="none" stroke="#55f5ff" stroke-width="2.0" stroke-linejoin="round"/>
<path d="M316.3,351.0L319.4,351.5L322.4,353.0L324.9,356.1L327.5,356.1L330.5,354.6L333.5,357.1L336.1,359.1L338.1,359.6L338.6,357.1L337.1,353.5L336.6,350.0L334.6,348.5L336.1,344.9L333.5,345.9L332.5,349.0L330.0,349.0L328.0,347.0L328.0,342.9L330.0,339.4L331.5,336.3L334.6,334.8L337.6,336.3L339.6,338.9L342.1,341.4L344.7,342.4L347.7,340.4L350.8,339.9L353.3,338.9L354.2,340.4L354.1,340.8L354.4,343.9L354.3,344.4L354.5,344.7L354.6,345.3L356.1,348.9L359.1,349.9L361.6,352.4L362.1,355.8L360.4,357.6L360.2,357.9L359.6,358.5L359.7,358.7L358.9,360.1L360.9,362.1L364.4,362.7L365.2,361.5L366.2,360.5L366.1,360.2L366.5,359.6L367.5,355.6L368.0,351.5L365.4,348.5L362.9,345.9L359.9,343.4L357.9,340.4L357.3,337.3L359.9,335.3L362.9,333.8L365.4,331.8L364.9,327.7L362.4,325.2L360.6,324.5L365.2,322.6L368.2,321.9L372.3,320.4L375.3,318.9L374.3,317.9L370.2,319.9L365.2,319.1L364.3,319.4L364.7,318.2L363.3,317.5L361.2,318.9L359.1,320.7L356.2,322.1L354.9,322.4L350.4,320.6L349.1,319.3L347.7,317.1L345.6,318.2L345.6,320.7L345.2,323.5L344.2,326.3L345.6,327.8L347.0,326.3L348.4,324.6L350.2,326.3L352.0,327.4L353.3,325.8L356.1,326.5L358.0,325.6L357.9,325.7L355.8,326.7L353.8,329.2L350.8,331.8L347.2,334.3L344.7,335.8L342.1,334.8L340.1,332.3L337.6,331.8L335.6,330.2L332.5,329.2L331.5,328.2L334.6,325.7L337.6,324.2L340.6,322.1L342.7,319.6L345.2,318.1L347.7,316.1L350.8,315.1L350.8,314.9L352.0,315.0L355.2,315.7L356.9,314.7L356.2,313.2L353.7,312.6L352.9,311.1L353.5,310.3L353.8,309.8L354.8,305.7L355.8,301.1L357.9,297.1L360.9,294.1L364.4,291.0L368.0,289.0L370.5,287.0L370.5,283.4L369.0,279.4L368.5,275.3L370.0,271.8L372.5,268.7L376.6,266.7L377.6,263.2L380.6,262.1L384.7,263.7L388.7,265.2L392.8,266.2L396.8,265.2L400.5,265.6L402.1,265.2L404.9,264.2L406.4,264.5L408.1,264.2L412.1,265.3L415.2,266.8L418.2,267.8L421.3,266.3L425.3,266.8L428.4,266.8L430.9,269.8L432.9,273.4L434.9,277.4L436.5,281.5L439.0,284.5L441.5,287.5L444.1,290.6L444.6,294.6L444.6,298.7L446.6,300.7L449.1,301.2L450.6,299.7L449.6,296.7L449.1,292.6L447.6,288.6L445.6,284.5L442.5,281.0L441.0,277.9L443.0,274.4L439.5,270.3L435.4,266.8L431.4,264.2L426.3,262.7L421.3,261.7L417.2,259.2L412.1,258.7L407.1,258.2L403.9,254.1L399.9,252.1L394.8,251.1L389.8,250.6L384.7,249.5L380.6,248.5L378.1,246.0L375.1,243.5L371.5,240.9L369.0,237.9L369.5,235.9L373.0,236.4L376.1,234.3L377.1,230.8L374.6,227.8L371.5,224.7L368.5,222.2L362.8,222.0L358.7,219.8L353.7,218.7L348.6,218.2L343.5,218.2L339.5,216.7L338.5,213.7L340.5,211.1L344.6,208.1L348.6,204.6L352.1,200.5L355.2,197.0L356.2,193.4L355.2,189.4L353.2,186.3L349.6,185.3L346.1,182.8L342.5,179.8L341.0,179.8L341.5,181.3L344.6,184.3L347.1,186.8L344.6,188.9L341.0,191.4L339.0,195.4L337.0,199.0L334.9,199.0L333.4,196.5L330.9,197.0L330.4,193.4L328.4,193.9L327.3,197.5L324.8,199.0L324.3,201.5L321.8,203.0L319.2,205.6L318.7,210.1L316.2,214.2L312.1,218.2L310.1,222.0L309.8,223.6L311.3,226.6L314.8,229.7L318.9,229.7L322.9,229.2L325.4,231.2L324.9,234.7L322.9,236.8L320.9,234.7L317.3,233.2L313.8,233.2L310.8,231.7L309.8,228.7L306.7,227.7L303.7,228.2L299.6,229.7L296.1,228.2L294.6,225.1L292.5,223.6L290.0,226.1L288.0,228.7L284.9,226.6L281.9,229.2L283.9,231.2L285.9,233.2L289.0,232.2L291.0,230.2L290.0,234.2L289.0,239.3L290.0,243.3L292.5,246.4L292.0,249.9L289.0,251.9L285.4,251.9L286.5,254.5L284.9,257.5L281.9,257.5L280.4,255.5L280.4,251.4L282.4,249.4L285.4,249.4L285.9,246.4L284.9,242.3L282.9,239.8L280.9,235.8L279.4,237.8L276.3,237.3L273.8,234.7L270.8,234.7L269.2,236.8L270.2,240.3L268.7,243.3L268.2,247.4L269.2,249.4L270.2,253.5L268.7,257.0L266.2,260.6L263.7,263.1L260.6,266.6L259.6,272.7L258.6,278.0L260.5,290.0L261.0,295.1L261.5,300.1L260.5,305.2L259.0,310.2L257.5,315.3L255.9,319.4L259.0,320.9L262.5,321.4L264.6,323.4L267.6,323.4L270.6,324.9L274.7,326.5L278.7,327.0L282.8,327.5L286.8,329.5L289.9,332.5L292.9,336.1L293.0,336.1L293.0,336.3L297.1,341.4L302.1,347.5L306.2,352.5L308.2,354.1L312.3,352.5ZM349.1,323.9L349.0,322.4L350.0,322.4L350.0,322.5L350.0,323.7ZM356.8,232.8L353.8,233.3L350.8,232.8L347.7,234.9L344.2,233.8L342.7,231.8L343.2,230.3L345.2,227.8L348.7,228.8L351.3,226.2L355.3,225.8L358.4,227.3L358.9,230.3ZM277.3,262.6L278.4,260.8L280.4,260.6L281.6,262.1L280.9,264.1L278.9,264.6ZM273.1,255.0L271.8,254.0L272.8,251.9L275.8,249.9L277.1,250.9L275.3,253.3ZM270.1,306.2L267.8,305.2L266.8,301.6L268.6,300.1L271.1,301.1L271.9,304.2ZM369.8,357.0L371.3,359.0L371.4,358.8L372.1,359.7L373.9,358.3L373.2,354.9L371.4,352.0L369.5,352.8L369.8,354.4ZM349.2,361.1L346.2,362.1L343.7,361.1L342.1,358.6L341.1,359.1L342.7,362.7L346.2,363.7L349.8,362.7ZM373.8,308.2L373.5,311.9L375.1,316.0L377.1,319.7L378.9,322.4L379.6,322.6L379.4,322.9L376.8,326.5L375.3,329.7L376.5,330.5L377.9,328.0L380.4,323.9L383.9,320.4L380.4,317.9L379.2,314.3L376.5,310.2L375.9,306.2L374.7,298.6L373.1,298.6L374.3,306.7L374.5,308.5ZM392.5,327.5L397.6,328.0L402.7,328.0L406.2,330.0L409.8,331.5L414.8,331.5L418.1,329.8L421.1,331.8L424.2,335.3L427.2,339.4L430.2,343.4L433.3,347.5L435.3,350.5L435.4,349.6L435.0,354.9L433.9,358.0L429.3,357.6L424.8,357.2L421.0,358.0L417.2,359.9L413.4,362.5L410.4,362.5L410.1,363.3L409.8,362.5L408.2,359.5L406.7,356.5L408.2,353.4L409.8,349.4L408.2,345.3L406.2,341.8L403.7,341.8L402.7,345.3L400.6,347.9L398.6,345.3L396.6,341.8L393.5,340.2L390.0,341.8L392.0,344.8L394.6,349.4L395.6,353.4L395.1,356.5L397.1,359.5L400.6,361.5L403.7,364.6L402.7,368.1L400.6,370.6L396.3,372.8L392.8,373.8L390.8,377.3L388.7,381.4L387.7,385.4L386.2,389.5L386.2,394.0L388.7,396.6L391.8,398.1L395.3,399.6L398.9,401.1L402.4,400.1L407.5,400.1L412.5,401.1L417.6,401.1L421.6,400.1L425.2,400.6L427.7,403.1L430.8,405.7L433.8,408.2L436.8,408.7L437.9,405.7L434.8,403.1L431.8,400.1L428.7,397.6L430.2,395.0L431.3,390.5L430.2,385.9L427.2,382.9L423.7,382.4L420.6,380.4L420.2,378.4L418.7,374.6L414.9,370.1L411.9,367.8L414.9,364.8L418.7,361.8L422.5,359.5L426.3,360.2L430.1,360.2L433.9,361.4L435.3,359.6L437.3,362.7L440.4,364.2L442.9,362.1L442.4,358.6L440.9,355.6L442.4,353.0L446.5,352.5L450.5,353.5L453.5,355.1L457.1,357.6L460.6,358.1L464.7,356.6L468.7,356.1L472.8,354.6L476.3,353.5L477.3,351.5L474.8,350.5L470.8,350.5L467.2,351.0L464.7,353.0L461.6,354.1L457.6,353.0L453.5,351.0L450.5,349.0L446.5,347.5L442.4,346.5L439.4,344.9L437.9,341.4L437.3,337.3L434.8,334.3L431.8,330.8L430.0,325.4L424.9,322.4L420.9,318.9L416.8,315.3L412.8,312.8L408.7,311.8L404.7,310.2L400.6,307.7L396.6,305.7L392.5,304.7L388.5,305.7L385.9,309.2L384.4,314.3L383.4,319.4L385.4,323.4L388.5,326.5ZM404.2,371.8L403.9,370.0L407.0,369.4L410.0,370.7L410.3,372.1L407.0,372.2ZM378.8,351.0L379.4,351.4L382.4,353.4L384.9,356.5L386.5,354.9L386.3,354.5L386.8,354.9L386.0,350.1L383.8,346.2L379.2,345.5L375.3,343.2L373.0,337.7L371.2,334.1L370.9,334.6L370.8,334.2L368.7,335.2L368.7,340.2L369.4,341.3L371.2,344.6L374.6,348.3L377.6,351.5Z" fill="none" stroke="#7dff60" stroke-width="1.1" stroke-linejoin="round"/>
<path d="M261.0,296.1L260.5,305.2L259.0,310.2L257.5,315.3L256.5,319.4L259.0,321.2L262.5,321.9L264.6,323.7L267.6,323.9L270.6,325.4L274.7,326.9L278.7,327.5L282.8,328.1L286.3,329.7" fill="none" stroke="#55f5ff" stroke-width="6.4" stroke-linejoin="round" stroke-linecap="round"/>
<path d="M261.0,296.1L260.5,305.2L259.0,310.2L257.5,315.3L256.5,319.4L259.0,321.2L262.5,321.9L264.6,323.7L267.6,323.9L270.6,325.4L274.7,326.9L278.7,327.5L282.8,328.1L286.3,329.7" fill="none" stroke="#7dff60" stroke-width="5.0" stroke-linejoin="round" stroke-linecap="round"/>
<path d="M261.0,296.1L260.5,305.2L259.0,310.2L257.5,315.3L256.5,319.4L259.0,321.2L262.5,321.9L264.6,323.7L267.6,323.9L270.6,325.4L274.7,326.9L278.7,327.5L282.8,328.1L286.3,329.7" fill="none" stroke="#ffe000" stroke-width="3.6" stroke-linejoin="round" stroke-linecap="round"/>
<path d="M316.3,351.0L319.4,351.5L322.4,353.0L324.9,356.1L327.5,356.1L330.5,354.6L333.5,357.1L336.1,359.1L338.1,359.6L338.6,357.1L337.1,353.5L336.6,350.0L334.6,348.5L336.1,344.9L333.5,345.9L332.5,349.0L330.0,349.0L328.0,347.0L328.0,342.9L330.0,339.4L331.5,336.3L334.6,334.8L337.6,336.3L339.6,338.9L342.1,341.4L344.7,342.4L347.7,340.4L350.8,339.9L353.3,338.9L354.2,340.4L354.1,340.8L354.4,343.9L354.3,344.4L354.5,344.7L354.6,345.3L356.1,348.9L359.1,349.9L361.6,352.4L362.1,355.8L360.4,357.6L360.2,357.9L359.6,358.5L359.7,358.7L358.9,360.1L360.9,362.1L364.4,362.7L365.2,361.5L366.2,360.5L366.1,360.2L366.5,359.6L367.5,355.6L368.0,351.5L365.4,348.5L362.9,345.9L359.9,343.4L357.9,340.4L357.3,337.3L359.9,335.3L362.9,333.8L365.4,331.8L364.9,327.7L362.4,325.2L360.6,324.5L365.2,322.6L368.2,321.9L372.3,320.4L375.3,318.9L374.3,317.9L370.2,319.9L365.2,319.1L364.3,319.4L364.7,318.2L363.3,317.5L361.2,318.9L359.1,320.7L356.2,322.1L354.9,322.4L350.4,320.6L349.1,319.3L347.7,317.1L345.6,318.2L345.6,320.7L345.2,323.5L344.2,326.3L345.6,327.8L347.0,326.3L348.4,324.6L350.2,326.3L352.0,327.4L353.3,325.8L356.1,326.5L358.0,325.6L357.9,325.7L355.8,326.7L353.8,329.2L350.8,331.8L347.2,334.3L344.7,335.8L342.1,334.8L340.1,332.3L337.6,331.8L335.6,330.2L332.5,329.2L331.5,328.2L334.6,325.7L337.6,324.2L340.6,322.1L342.7,319.6L345.2,318.1L347.7,316.1L350.8,315.1L350.8,314.9L352.0,315.0L355.2,315.7L356.9,314.7L356.2,313.2L353.7,312.6L352.9,311.1L353.5,310.3L353.8,309.8L354.8,305.7L355.8,301.1L357.9,297.1L360.9,294.1L364.4,291.0L368.0,289.0L370.5,287.0L370.5,283.4L369.0,279.4L368.5,275.3L370.0,271.8L372.5,268.7L376.6,266.7L377.6,263.2L380.6,262.1L384.7,263.7L388.7,265.2L392.8,266.2L396.8,265.2L400.5,265.6L402.1,265.2L404.9,264.2L406.4,264.5L408.1,264.2L412.1,265.3L415.2,266.8L418.2,267.8L421.3,266.3L425.3,266.8L428.4,266.8L430.9,269.8L432.9,273.4L434.9,277.4L436.5,281.5L439.0,284.5L441.5,287.5L444.1,290.6L444.6,294.6L444.6,298.7L446.6,300.7L449.1,301.2L450.6,299.7L449.6,296.7L449.1,292.6L447.6,288.6L445.6,284.5L442.5,281.0L441.0,277.9L443.0,274.4L439.5,270.3L435.4,266.8L431.4,264.2L426.3,262.7L421.3,261.7L417.2,259.2L412.1,258.7L407.1,258.2L403.9,254.1L399.9,252.1L394.8,251.1L389.8,250.6L384.7,249.5L380.6,248.5L378.1,246.0L375.1,243.5L371.5,240.9L369.0,237.9L369.5,235.9L373.0,236.4L376.1,234.3L377.1,230.8L374.6,227.8L371.5,224.7L368.5,222.2L362.8,222.0L358.7,219.8L353.7,218.7L348.6,218.2L343.5,218.2L339.5,216.7L338.5,213.7L340.5,211.1L344.6,208.1L348.6,204.6L352.1,200.5L355.2,197.0L356.2,193.4L355.2,189.4L353.2,186.3L349.6,185.3L346.1,182.8L342.5,179.8L341.0,179.8L341.5,181.3L344.6,184.3L347.1,186.8L344.6,188.9L341.0,191.4L339.0,195.4L337.0,199.0L334.9,199.0L333.4,196.5L330.9,197.0L330.4,193.4L328.4,193.9L327.3,197.5L324.8,199.0L324.3,201.5L321.8,203.0L319.2,205.6L318.7,210.1L316.2,214.2L312.1,218.2L310.1,222.0L309.8,223.6L311.3,226.6L314.8,229.7L318.9,229.7L322.9,229.2L325.4,231.2L324.9,234.7L322.9,236.8L320.9,234.7L317.3,233.2L313.8,233.2L310.8,231.7L309.8,228.7L306.7,227.7L303.7,228.2L299.6,229.7L296.1,228.2L294.6,225.1L292.5,223.6L290.0,226.1L288.0,228.7L284.9,226.6L281.9,229.2L283.9,231.2L285.9,233.2L289.0,232.2L291.0,230.2L290.0,234.2L289.0,239.3L290.0,243.3L292.5,246.4L292.0,249.9L289.0,251.9L285.4,251.9L286.5,254.5L284.9,257.5L281.9,257.5L280.4,255.5L280.4,251.4L282.4,249.4L285.4,249.4L285.9,246.4L284.9,242.3L282.9,239.8L280.9,235.8L279.4,237.8L276.3,237.3L273.8,234.7L270.8,234.7L269.2,236.8L270.2,240.3L268.7,243.3L268.2,247.4L269.2,249.4L270.2,253.5L268.7,257.0L266.2,260.6L263.7,263.1L260.6,266.6L259.6,272.7L258.6,278.0L260.5,290.0L261.0,295.1L261.5,300.1L260.5,305.2L259.0,310.2L257.5,315.3L255.9,319.4L259.0,320.9L262.5,321.4L264.6,323.4L267.6,323.4L270.6,324.9L274.7,326.5L278.7,327.0L282.8,327.5L286.8,329.5L289.9,332.5L292.9,336.1L293.0,336.1L293.0,336.3L297.1,341.4L302.1,347.5L306.2,352.5L308.2,354.1L312.3,352.5ZM349.1,323.9L349.0,322.4L350.0,322.4L350.0,322.5L350.0,323.7ZM356.8,232.8L353.8,233.3L350.8,232.8L347.7,234.9L344.2,233.8L342.7,231.8L343.2,230.3L345.2,227.8L348.7,228.8L351.3,226.2L355.3,225.8L358.4,227.3L358.9,230.3ZM277.3,262.6L278.4,260.8L280.4,260.6L281.6,262.1L280.9,264.1L278.9,264.6ZM273.1,255.0L271.8,254.0L272.8,251.9L275.8,249.9L277.1,250.9L275.3,253.3ZM270.1,306.2L267.8,305.2L266.8,301.6L268.6,300.1L271.1,301.1L271.9,304.2ZM369.8,357.0L371.3,359.0L371.4,358.8L372.1,359.7L373.9,358.3L373.2,354.9L371.4,352.0L369.5,352.8L369.8,354.4ZM349.2,361.1L346.2,362.1L343.7,361.1L342.1,358.6L341.1,359.1L342.7,362.7L346.2,363.7L349.8,362.7ZM373.8,308.2L373.5,311.9L375.1,316.0L377.1,319.7L378.9,322.4L379.6,322.6L379.4,322.9L376.8,326.5L375.3,329.7L376.5,330.5L377.9,328.0L380.4,323.9L383.9,320.4L380.4,317.9L379.2,314.3L376.5,310.2L375.9,306.2L374.7,298.6L373.1,298.6L374.3,306.7L374.5,308.5ZM392.5,327.5L397.6,328.0L402.7,328.0L406.2,330.0L409.8,331.5L414.8,331.5L418.1,329.8L421.1,331.8L424.2,335.3L427.2,339.4L430.2,343.4L433.3,347.5L435.3,350.5L435.4,349.6L435.0,354.9L433.9,358.0L429.3,357.6L424.8,357.2L421.0,358.0L417.2,359.9L413.4,362.5L410.4,362.5L410.1,363.3L409.8,362.5L408.2,359.5L406.7,356.5L408.2,353.4L409.8,349.4L408.2,345.3L406.2,341.8L403.7,341.8L402.7,345.3L400.6,347.9L398.6,345.3L396.6,341.8L393.5,340.2L390.0,341.8L392.0,344.8L394.6,349.4L395.6,353.4L395.1,356.5L397.1,359.5L400.6,361.5L403.7,364.6L402.7,368.1L400.6,370.6L396.3,372.8L392.8,373.8L390.8,377.3L388.7,381.4L387.7,385.4L386.2,389.5L386.2,394.0L388.7,396.6L391.8,398.1L395.3,399.6L398.9,401.1L402.4,400.1L407.5,400.1L412.5,401.1L417.6,401.1L421.6,400.1L425.2,400.6L427.7,403.1L430.8,405.7L433.8,408.2L436.8,408.7L437.9,405.7L434.8,403.1L431.8,400.1L428.7,397.6L430.2,395.0L431.3,390.5L430.2,385.9L427.2,382.9L423.7,382.4L420.6,380.4L420.2,378.4L418.7,374.6L414.9,370.1L411.9,367.8L414.9,364.8L418.7,361.8L422.5,359.5L426.3,360.2L430.1,360.2L433.9,361.4L435.3,359.6L437.3,362.7L440.4,364.2L442.9,362.1L442.4,358.6L440.9,355.6L442.4,353.0L446.5,352.5L450.5,353.5L453.5,355.1L457.1,357.6L460.6,358.1L464.7,356.6L468.7,356.1L472.8,354.6L476.3,353.5L477.3,351.5L474.8,350.5L470.8,350.5L467.2,351.0L464.7,353.0L461.6,354.1L457.6,353.0L453.5,351.0L450.5,349.0L446.5,347.5L442.4,346.5L439.4,344.9L437.9,341.4L437.3,337.3L434.8,334.3L431.8,330.8L430.0,325.4L424.9,322.4L420.9,318.9L416.8,315.3L412.8,312.8L408.7,311.8L404.7,310.2L400.6,307.7L396.6,305.7L392.5,304.7L388.5,305.7L385.9,309.2L384.4,314.3L383.4,319.4L385.4,323.4L388.5,326.5ZM404.2,371.8L403.9,370.0L407.0,369.4L410.0,370.7L410.3,372.1L407.0,372.2ZM378.8,351.0L379.4,351.4L382.4,353.4L384.9,356.5L386.5,354.9L386.3,354.5L386.8,354.9L386.0,350.1L383.8,346.2L379.2,345.5L375.3,343.2L373.0,337.7L371.2,334.1L370.9,334.6L370.8,334.2L368.7,335.2L368.7,340.2L369.4,341.3L371.2,344.6L374.6,348.3L377.6,351.5Z" fill="#ff2a00" fill-rule="evenodd"/>
<clipPath id="ic"><path clip-rule="evenodd" d="M316.3,351.0L319.4,351.5L322.4,353.0L324.9,356.1L327.5,356.1L330.5,354.6L333.5,357.1L336.1,359.1L338.1,359.6L338.6,357.1L337.1,353.5L336.6,350.0L334.6,348.5L336.1,344.9L333.5,345.9L332.5,349.0L330.0,349.0L328.0,347.0L328.0,342.9L330.0,339.4L331.5,336.3L334.6,334.8L337.6,336.3L339.6,338.9L342.1,341.4L344.7,342.4L347.7,340.4L350.8,339.9L353.3,338.9L354.2,340.4L354.1,340.8L354.4,343.9L354.3,344.4L354.5,344.7L354.6,345.3L356.1,348.9L359.1,349.9L361.6,352.4L362.1,355.8L360.4,357.6L360.2,357.9L359.6,358.5L359.7,358.7L358.9,360.1L360.9,362.1L364.4,362.7L365.2,361.5L366.2,360.5L366.1,360.2L366.5,359.6L367.5,355.6L368.0,351.5L365.4,348.5L362.9,345.9L359.9,343.4L357.9,340.4L357.3,337.3L359.9,335.3L362.9,333.8L365.4,331.8L364.9,327.7L362.4,325.2L360.6,324.5L365.2,322.6L368.2,321.9L372.3,320.4L375.3,318.9L374.3,317.9L370.2,319.9L365.2,319.1L364.3,319.4L364.7,318.2L363.3,317.5L361.2,318.9L359.1,320.7L356.2,322.1L354.9,322.4L350.4,320.6L349.1,319.3L347.7,317.1L345.6,318.2L345.6,320.7L345.2,323.5L344.2,326.3L345.6,327.8L347.0,326.3L348.4,324.6L350.2,326.3L352.0,327.4L353.3,325.8L356.1,326.5L358.0,325.6L357.9,325.7L355.8,326.7L353.8,329.2L350.8,331.8L347.2,334.3L344.7,335.8L342.1,334.8L340.1,332.3L337.6,331.8L335.6,330.2L332.5,329.2L331.5,328.2L334.6,325.7L337.6,324.2L340.6,322.1L342.7,319.6L345.2,318.1L347.7,316.1L350.8,315.1L350.8,314.9L352.0,315.0L355.2,315.7L356.9,314.7L356.2,313.2L353.7,312.6L352.9,311.1L353.5,310.3L353.8,309.8L354.8,305.7L355.8,301.1L357.9,297.1L360.9,294.1L364.4,291.0L368.0,289.0L370.5,287.0L370.5,283.4L369.0,279.4L368.5,275.3L370.0,271.8L372.5,268.7L376.6,266.7L377.6,263.2L380.6,262.1L384.7,263.7L388.7,265.2L392.8,266.2L396.8,265.2L400.5,265.6L402.1,265.2L404.9,264.2L406.4,264.5L408.1,264.2L412.1,265.3L415.2,266.8L418.2,267.8L421.3,266.3L425.3,266.8L428.4,266.8L430.9,269.8L432.9,273.4L434.9,277.4L436.5,281.5L439.0,284.5L441.5,287.5L444.1,290.6L444.6,294.6L444.6,298.7L446.6,300.7L449.1,301.2L450.6,299.7L449.6,296.7L449.1,292.6L447.6,288.6L445.6,284.5L442.5,281.0L441.0,277.9L443.0,274.4L439.5,270.3L435.4,266.8L431.4,264.2L426.3,262.7L421.3,261.7L417.2,259.2L412.1,258.7L407.1,258.2L403.9,254.1L399.9,252.1L394.8,251.1L389.8,250.6L384.7,249.5L380.6,248.5L378.1,246.0L375.1,243.5L371.5,240.9L369.0,237.9L369.5,235.9L373.0,236.4L376.1,234.3L377.1,230.8L374.6,227.8L371.5,224.7L368.5,222.2L362.8,222.0L358.7,219.8L353.7,218.7L348.6,218.2L343.5,218.2L339.5,216.7L338.5,213.7L340.5,211.1L344.6,208.1L348.6,204.6L352.1,200.5L355.2,197.0L356.2,193.4L355.2,189.4L353.2,186.3L349.6,185.3L346.1,182.8L342.5,179.8L341.0,179.8L341.5,181.3L344.6,184.3L347.1,186.8L344.6,188.9L341.0,191.4L339.0,195.4L337.0,199.0L334.9,199.0L333.4,196.5L330.9,197.0L330.4,193.4L328.4,193.9L327.3,197.5L324.8,199.0L324.3,201.5L321.8,203.0L319.2,205.6L318.7,210.1L316.2,214.2L312.1,218.2L310.1,222.0L309.8,223.6L311.3,226.6L314.8,229.7L318.9,229.7L322.9,229.2L325.4,231.2L324.9,234.7L322.9,236.8L320.9,234.7L317.3,233.2L313.8,233.2L310.8,231.7L309.8,228.7L306.7,227.7L303.7,228.2L299.6,229.7L296.1,228.2L294.6,225.1L292.5,223.6L290.0,226.1L288.0,228.7L284.9,226.6L281.9,229.2L283.9,231.2L285.9,233.2L289.0,232.2L291.0,230.2L290.0,234.2L289.0,239.3L290.0,243.3L292.5,246.4L292.0,249.9L289.0,251.9L285.4,251.9L286.5,254.5L284.9,257.5L281.9,257.5L280.4,255.5L280.4,251.4L282.4,249.4L285.4,249.4L285.9,246.4L284.9,242.3L282.9,239.8L280.9,235.8L279.4,237.8L276.3,237.3L273.8,234.7L270.8,234.7L269.2,236.8L270.2,240.3L268.7,243.3L268.2,247.4L269.2,249.4L270.2,253.5L268.7,257.0L266.2,260.6L263.7,263.1L260.6,266.6L259.6,272.7L258.6,278.0L260.5,290.0L261.0,295.1L261.5,300.1L260.5,305.2L259.0,310.2L257.5,315.3L255.9,319.4L259.0,320.9L262.5,321.4L264.6,323.4L267.6,323.4L270.6,324.9L274.7,326.5L278.7,327.0L282.8,327.5L286.8,329.5L289.9,332.5L292.9,336.1L293.0,336.1L293.0,336.3L297.1,341.4L302.1,347.5L306.2,352.5L308.2,354.1L312.3,352.5ZM349.1,323.9L349.0,322.4L350.0,322.4L350.0,322.5L350.0,323.7ZM356.8,232.8L353.8,233.3L350.8,232.8L347.7,234.9L344.2,233.8L342.7,231.8L343.2,230.3L345.2,227.8L348.7,228.8L351.3,226.2L355.3,225.8L358.4,227.3L358.9,230.3ZM277.3,262.6L278.4,260.8L280.4,260.6L281.6,262.1L280.9,264.1L278.9,264.6ZM273.1,255.0L271.8,254.0L272.8,251.9L275.8,249.9L277.1,250.9L275.3,253.3ZM270.1,306.2L267.8,305.2L266.8,301.6L268.6,300.1L271.1,301.1L271.9,304.2ZM369.8,357.0L371.3,359.0L371.4,358.8L372.1,359.7L373.9,358.3L373.2,354.9L371.4,352.0L369.5,352.8L369.8,354.4ZM349.2,361.1L346.2,362.1L343.7,361.1L342.1,358.6L341.1,359.1L342.7,362.7L346.2,363.7L349.8,362.7ZM373.8,308.2L373.5,311.9L375.1,316.0L377.1,319.7L378.9,322.4L379.6,322.6L379.4,322.9L376.8,326.5L375.3,329.7L376.5,330.5L377.9,328.0L380.4,323.9L383.9,320.4L380.4,317.9L379.2,314.3L376.5,310.2L375.9,306.2L374.7,298.6L373.1,298.6L374.3,306.7L374.5,308.5ZM392.5,327.5L397.6,328.0L402.7,328.0L406.2,330.0L409.8,331.5L414.8,331.5L418.1,329.8L421.1,331.8L424.2,335.3L427.2,339.4L430.2,343.4L433.3,347.5L435.3,350.5L435.4,349.6L435.0,354.9L433.9,358.0L429.3,357.6L424.8,357.2L421.0,358.0L417.2,359.9L413.4,362.5L410.4,362.5L410.1,363.3L409.8,362.5L408.2,359.5L406.7,356.5L408.2,353.4L409.8,349.4L408.2,345.3L406.2,341.8L403.7,341.8L402.7,345.3L400.6,347.9L398.6,345.3L396.6,341.8L393.5,340.2L390.0,341.8L392.0,344.8L394.6,349.4L395.6,353.4L395.1,356.5L397.1,359.5L400.6,361.5L403.7,364.6L402.7,368.1L400.6,370.6L396.3,372.8L392.8,373.8L390.8,377.3L388.7,381.4L387.7,385.4L386.2,389.5L386.2,394.0L388.7,396.6L391.8,398.1L395.3,399.6L398.9,401.1L402.4,400.1L407.5,400.1L412.5,401.1L417.6,401.1L421.6,400.1L425.2,400.6L427.7,403.1L430.8,405.7L433.8,408.2L436.8,408.7L437.9,405.7L434.8,403.1L431.8,400.1L428.7,397.6L430.2,395.0L431.3,390.5L430.2,385.9L427.2,382.9L423.7,382.4L420.6,380.4L420.2,378.4L418.7,374.6L414.9,370.1L411.9,367.8L414.9,364.8L418.7,361.8L422.5,359.5L426.3,360.2L430.1,360.2L433.9,361.4L435.3,359.6L437.3,362.7L440.4,364.2L442.9,362.1L442.4,358.6L440.9,355.6L442.4,353.0L446.5,352.5L450.5,353.5L453.5,355.1L457.1,357.6L460.6,358.1L464.7,356.6L468.7,356.1L472.8,354.6L476.3,353.5L477.3,351.5L474.8,350.5L470.8,350.5L467.2,351.0L464.7,353.0L461.6,354.1L457.6,353.0L453.5,351.0L450.5,349.0L446.5,347.5L442.4,346.5L439.4,344.9L437.9,341.4L437.3,337.3L434.8,334.3L431.8,330.8L430.0,325.4L424.9,322.4L420.9,318.9L416.8,315.3L412.8,312.8L408.7,311.8L404.7,310.2L400.6,307.7L396.6,305.7L392.5,304.7L388.5,305.7L385.9,309.2L384.4,314.3L383.4,319.4L385.4,323.4L388.5,326.5ZM404.2,371.8L403.9,370.0L407.0,369.4L410.0,370.7L410.3,372.1L407.0,372.2ZM378.8,351.0L379.4,351.4L382.4,353.4L384.9,356.5L386.5,354.9L386.3,354.5L386.8,354.9L386.0,350.1L383.8,346.2L379.2,345.5L375.3,343.2L373.0,337.7L371.2,334.1L370.9,334.6L370.8,334.2L368.7,335.2L368.7,340.2L369.4,341.3L371.2,344.6L374.6,348.3L377.6,351.5Z"/></clipPath>
<g clip-path="url(#ic)"><path d="M316.3,351.0L319.4,351.5L322.4,353.0L324.9,356.1L327.5,356.1L330.5,354.6L333.5,357.1L336.1,359.1L338.1,359.6L338.6,357.1L337.1,353.5L336.6,350.0L334.6,348.5L336.1,344.9L333.5,345.9L332.5,349.0L330.0,349.0L328.0,347.0L328.0,342.9L330.0,339.4L331.5,336.3L334.6,334.8L337.6,336.3L339.6,338.9L342.1,341.4L344.7,342.4L347.7,340.4L350.8,339.9L353.3,338.9L354.2,340.4L354.1,340.8L354.4,343.9L354.3,344.4L354.5,344.7L354.6,345.3L356.1,348.9L359.1,349.9L361.6,352.4L362.1,355.8L360.4,357.6L360.2,357.9L359.6,358.5L359.7,358.7L358.9,360.1L360.9,362.1L364.4,362.7L365.2,361.5L366.2,360.5L366.1,360.2L366.5,359.6L367.5,355.6L368.0,351.5L365.4,348.5L362.9,345.9L359.9,343.4L357.9,340.4L357.3,337.3L359.9,335.3L362.9,333.8L365.4,331.8L364.9,327.7L362.4,325.2L360.6,324.5L365.2,322.6L368.2,321.9L372.3,320.4L375.3,318.9L374.3,317.9L370.2,319.9L365.2,319.1L364.3,319.4L364.7,318.2L363.3,317.5L361.2,318.9L359.1,320.7L356.2,322.1L354.9,322.4L350.4,320.6L349.1,319.3L347.7,317.1L345.6,318.2L345.6,320.7L345.2,323.5L344.2,326.3L345.6,327.8L347.0,326.3L348.4,324.6L350.2,326.3L352.0,327.4L353.3,325.8L356.1,326.5L358.0,325.6L357.9,325.7L355.8,326.7L353.8,329.2L350.8,331.8L347.2,334.3L344.7,335.8L342.1,334.8L340.1,332.3L337.6,331.8L335.6,330.2L332.5,329.2L331.5,328.2L334.6,325.7L337.6,324.2L340.6,322.1L342.7,319.6L345.2,318.1L347.7,316.1L350.8,315.1L350.8,314.9L352.0,315.0L355.2,315.7L356.9,314.7L356.2,313.2L353.7,312.6L352.9,311.1L353.5,310.3L353.8,309.8L354.8,305.7L355.8,301.1L357.9,297.1L360.9,294.1L364.4,291.0L368.0,289.0L370.5,287.0L370.5,283.4L369.0,279.4L368.5,275.3L370.0,271.8L372.5,268.7L376.6,266.7L377.6,263.2L380.6,262.1L384.7,263.7L388.7,265.2L392.8,266.2L396.8,265.2L400.5,265.6L402.1,265.2L404.9,264.2L406.4,264.5L408.1,264.2L412.1,265.3L415.2,266.8L418.2,267.8L421.3,266.3L425.3,266.8L428.4,266.8L430.9,269.8L432.9,273.4L434.9,277.4L436.5,281.5L439.0,284.5L441.5,287.5L444.1,290.6L444.6,294.6L444.6,298.7L446.6,300.7L449.1,301.2L450.6,299.7L449.6,296.7L449.1,292.6L447.6,288.6L445.6,284.5L442.5,281.0L441.0,277.9L443.0,274.4L439.5,270.3L435.4,266.8L431.4,264.2L426.3,262.7L421.3,261.7L417.2,259.2L412.1,258.7L407.1,258.2L403.9,254.1L399.9,252.1L394.8,251.1L389.8,250.6L384.7,249.5L380.6,248.5L378.1,246.0L375.1,243.5L371.5,240.9L369.0,237.9L369.5,235.9L373.0,236.4L376.1,234.3L377.1,230.8L374.6,227.8L371.5,224.7L368.5,222.2L362.8,222.0L358.7,219.8L353.7,218.7L348.6,218.2L343.5,218.2L339.5,216.7L338.5,213.7L340.5,211.1L344.6,208.1L348.6,204.6L352.1,200.5L355.2,197.0L356.2,193.4L355.2,189.4L353.2,186.3L349.6,185.3L346.1,182.8L342.5,179.8L341.0,179.8L341.5,181.3L344.6,184.3L347.1,186.8L344.6,188.9L341.0,191.4L339.0,195.4L337.0,199.0L334.9,199.0L333.4,196.5L330.9,197.0L330.4,193.4L328.4,193.9L327.3,197.5L324.8,199.0L324.3,201.5L321.8,203.0L319.2,205.6L318.7,210.1L316.2,214.2L312.1,218.2L310.1,222.0L309.8,223.6L311.3,226.6L314.8,229.7L318.9,229.7L322.9,229.2L325.4,231.2L324.9,234.7L322.9,236.8L320.9,234.7L317.3,233.2L313.8,233.2L310.8,231.7L309.8,228.7L306.7,227.7L303.7,228.2L299.6,229.7L296.1,228.2L294.6,225.1L292.5,223.6L290.0,226.1L288.0,228.7L284.9,226.6L281.9,229.2L283.9,231.2L285.9,233.2L289.0,232.2L291.0,230.2L290.0,234.2L289.0,239.3L290.0,243.3L292.5,246.4L292.0,249.9L289.0,251.9L285.4,251.9L286.5,254.5L284.9,257.5L281.9,257.5L280.4,255.5L280.4,251.4L282.4,249.4L285.4,249.4L285.9,246.4L284.9,242.3L282.9,239.8L280.9,235.8L279.4,237.8L276.3,237.3L273.8,234.7L270.8,234.7L269.2,236.8L270.2,240.3L268.7,243.3L268.2,247.4L269.2,249.4L270.2,253.5L268.7,257.0L266.2,260.6L263.7,263.1L260.6,266.6L259.6,272.7L258.6,278.0L260.5,290.0L261.0,295.1L261.5,300.1L260.5,305.2L259.0,310.2L257.5,315.3L255.9,319.4L259.0,320.9L262.5,321.4L264.6,323.4L267.6,323.4L270.6,324.9L274.7,326.5L278.7,327.0L282.8,327.5L286.8,329.5L289.9,332.5L292.9,336.1L293.0,336.1L293.0,336.3L297.1,341.4L302.1,347.5L306.2,352.5L308.2,354.1L312.3,352.5ZM349.1,323.9L349.0,322.4L350.0,322.4L350.0,322.5L350.0,323.7ZM356.8,232.8L353.8,233.3L350.8,232.8L347.7,234.9L344.2,233.8L342.7,231.8L343.2,230.3L345.2,227.8L348.7,228.8L351.3,226.2L355.3,225.8L358.4,227.3L358.9,230.3ZM277.3,262.6L278.4,260.8L280.4,260.6L281.6,262.1L280.9,264.1L278.9,264.6ZM273.1,255.0L271.8,254.0L272.8,251.9L275.8,249.9L277.1,250.9L275.3,253.3ZM270.1,306.2L267.8,305.2L266.8,301.6L268.6,300.1L271.1,301.1L271.9,304.2ZM369.8,357.0L371.3,359.0L371.4,358.8L372.1,359.7L373.9,358.3L373.2,354.9L371.4,352.0L369.5,352.8L369.8,354.4ZM349.2,361.1L346.2,362.1L343.7,361.1L342.1,358.6L341.1,359.1L342.7,362.7L346.2,363.7L349.8,362.7ZM373.8,308.2L373.5,311.9L375.1,316.0L377.1,319.7L378.9,322.4L379.6,322.6L379.4,322.9L376.8,326.5L375.3,329.7L376.5,330.5L377.9,328.0L380.4,323.9L383.9,320.4L380.4,317.9L379.2,314.3L376.5,310.2L375.9,306.2L374.7,298.6L373.1,298.6L374.3,306.7L374.5,308.5ZM392.5,327.5L397.6,328.0L402.7,328.0L406.2,330.0L409.8,331.5L414.8,331.5L418.1,329.8L421.1,331.8L424.2,335.3L427.2,339.4L430.2,343.4L433.3,347.5L435.3,350.5L435.4,349.6L435.0,354.9L433.9,358.0L429.3,357.6L424.8,357.2L421.0,358.0L417.2,359.9L413.4,362.5L410.4,362.5L410.1,363.3L409.8,362.5L408.2,359.5L406.7,356.5L408.2,353.4L409.8,349.4L408.2,345.3L406.2,341.8L403.7,341.8L402.7,345.3L400.6,347.9L398.6,345.3L396.6,341.8L393.5,340.2L390.0,341.8L392.0,344.8L394.6,349.4L395.6,353.4L395.1,356.5L397.1,359.5L400.6,361.5L403.7,364.6L402.7,368.1L400.6,370.6L396.3,372.8L392.8,373.8L390.8,377.3L388.7,381.4L387.7,385.4L386.2,389.5L386.2,394.0L388.7,396.6L391.8,398.1L395.3,399.6L398.9,401.1L402.4,400.1L407.5,400.1L412.5,401.1L417.6,401.1L421.6,400.1L425.2,400.6L427.7,403.1L430.8,405.7L433.8,408.2L436.8,408.7L437.9,405.7L434.8,403.1L431.8,400.1L428.7,397.6L430.2,395.0L431.3,390.5L430.2,385.9L427.2,382.9L423.7,382.4L420.6,380.4L420.2,378.4L418.7,374.6L414.9,370.1L411.9,367.8L414.9,364.8L418.7,361.8L422.5,359.5L426.3,360.2L430.1,360.2L433.9,361.4L435.3,359.6L437.3,362.7L440.4,364.2L442.9,362.1L442.4,358.6L440.9,355.6L442.4,353.0L446.5,352.5L450.5,353.5L453.5,355.1L457.1,357.6L460.6,358.1L464.7,356.6L468.7,356.1L472.8,354.6L476.3,353.5L477.3,351.5L474.8,350.5L470.8,350.5L467.2,351.0L464.7,353.0L461.6,354.1L457.6,353.0L453.5,351.0L450.5,349.0L446.5,347.5L442.4,346.5L439.4,344.9L437.9,341.4L437.3,337.3L434.8,334.3L431.8,330.8L430.0,325.4L424.9,322.4L420.9,318.9L416.8,315.3L412.8,312.8L408.7,311.8L404.7,310.2L400.6,307.7L396.6,305.7L392.5,304.7L388.5,305.7L385.9,309.2L384.4,314.3L383.4,319.4L385.4,323.4L388.5,326.5ZM404.2,371.8L403.9,370.0L407.0,369.4L410.0,370.7L410.3,372.1L407.0,372.2ZM378.8,351.0L379.4,351.4L382.4,353.4L384.9,356.5L386.5,354.9L386.3,354.5L386.8,354.9L386.0,350.1L383.8,346.2L379.2,345.5L375.3,343.2L373.0,337.7L371.2,334.1L370.9,334.6L370.8,334.2L368.7,335.2L368.7,340.2L369.4,341.3L371.2,344.6L374.6,348.3L377.6,351.5Z" fill="none" stroke="#ffe000" stroke-width="1.5" stroke-linejoin="round"/><path d="M316.3,351.0L319.4,351.5L322.4,353.0L324.9,356.1L327.5,356.1L330.5,354.6L333.5,357.1L336.1,359.1L338.1,359.6L338.6,357.1L337.1,353.5L336.6,350.0L334.6,348.5L336.1,344.9L333.5,345.9L332.5,349.0L330.0,349.0L328.0,347.0L328.0,342.9L330.0,339.4L331.5,336.3L334.6,334.8L337.6,336.3L339.6,338.9L342.1,341.4L344.7,342.4L347.7,340.4L350.8,339.9L353.3,338.9L354.2,340.4L354.1,340.8L354.4,343.9L354.3,344.4L354.5,344.7L354.6,345.3L356.1,348.9L359.1,349.9L361.6,352.4L362.1,355.8L360.4,357.6L360.2,357.9L359.6,358.5L359.7,358.7L358.9,360.1L360.9,362.1L364.4,362.7L365.2,361.5L366.2,360.5L366.1,360.2L366.5,359.6L367.5,355.6L368.0,351.5L365.4,348.5L362.9,345.9L359.9,343.4L357.9,340.4L357.3,337.3L359.9,335.3L362.9,333.8L365.4,331.8L364.9,327.7L362.4,325.2L360.6,324.5L365.2,322.6L368.2,321.9L372.3,320.4L375.3,318.9L374.3,317.9L370.2,319.9L365.2,319.1L364.3,319.4L364.7,318.2L363.3,317.5L361.2,318.9L359.1,320.7L356.2,322.1L354.9,322.4L350.4,320.6L349.1,319.3L347.7,317.1L345.6,318.2L345.6,320.7L345.2,323.5L344.2,326.3L345.6,327.8L347.0,326.3L348.4,324.6L350.2,326.3L352.0,327.4L353.3,325.8L356.1,326.5L358.0,325.6L357.9,325.7L355.8,326.7L353.8,329.2L350.8,331.8L347.2,334.3L344.7,335.8L342.1,334.8L340.1,332.3L337.6,331.8L335.6,330.2L332.5,329.2L331.5,328.2L334.6,325.7L337.6,324.2L340.6,322.1L342.7,319.6L345.2,318.1L347.7,316.1L350.8,315.1L350.8,314.9L352.0,315.0L355.2,315.7L356.9,314.7L356.2,313.2L353.7,312.6L352.9,311.1L353.5,310.3L353.8,309.8L354.8,305.7L355.8,301.1L357.9,297.1L360.9,294.1L364.4,291.0L368.0,289.0L370.5,287.0L370.5,283.4L369.0,279.4L368.5,275.3L370.0,271.8L372.5,268.7L376.6,266.7L377.6,263.2L380.6,262.1L384.7,263.7L388.7,265.2L392.8,266.2L396.8,265.2L400.5,265.6L402.1,265.2L404.9,264.2L406.4,264.5L408.1,264.2L412.1,265.3L415.2,266.8L418.2,267.8L421.3,266.3L425.3,266.8L428.4,266.8L430.9,269.8L432.9,273.4L434.9,277.4L436.5,281.5L439.0,284.5L441.5,287.5L444.1,290.6L444.6,294.6L444.6,298.7L446.6,300.7L449.1,301.2L450.6,299.7L449.6,296.7L449.1,292.6L447.6,288.6L445.6,284.5L442.5,281.0L441.0,277.9L443.0,274.4L439.5,270.3L435.4,266.8L431.4,264.2L426.3,262.7L421.3,261.7L417.2,259.2L412.1,258.7L407.1,258.2L403.9,254.1L399.9,252.1L394.8,251.1L389.8,250.6L384.7,249.5L380.6,248.5L378.1,246.0L375.1,243.5L371.5,240.9L369.0,237.9L369.5,235.9L373.0,236.4L376.1,234.3L377.1,230.8L374.6,227.8L371.5,224.7L368.5,222.2L362.8,222.0L358.7,219.8L353.7,218.7L348.6,218.2L343.5,218.2L339.5,216.7L338.5,213.7L340.5,211.1L344.6,208.1L348.6,204.6L352.1,200.5L355.2,197.0L356.2,193.4L355.2,189.4L353.2,186.3L349.6,185.3L346.1,182.8L342.5,179.8L341.0,179.8L341.5,181.3L344.6,184.3L347.1,186.8L344.6,188.9L341.0,191.4L339.0,195.4L337.0,199.0L334.9,199.0L333.4,196.5L330.9,197.0L330.4,193.4L328.4,193.9L327.3,197.5L324.8,199.0L324.3,201.5L321.8,203.0L319.2,205.6L318.7,210.1L316.2,214.2L312.1,218.2L310.1,222.0L309.8,223.6L311.3,226.6L314.8,229.7L318.9,229.7L322.9,229.2L325.4,231.2L324.9,234.7L322.9,236.8L320.9,234.7L317.3,233.2L313.8,233.2L310.8,231.7L309.8,228.7L306.7,227.7L303.7,228.2L299.6,229.7L296.1,228.2L294.6,225.1L292.5,223.6L290.0,226.1L288.0,228.7L284.9,226.6L281.9,229.2L283.9,231.2L285.9,233.2L289.0,232.2L291.0,230.2L290.0,234.2L289.0,239.3L290.0,243.3L292.5,246.4L292.0,249.9L289.0,251.9L285.4,251.9L286.5,254.5L284.9,257.5L281.9,257.5L280.4,255.5L280.4,251.4L282.4,249.4L285.4,249.4L285.9,246.4L284.9,242.3L282.9,239.8L280.9,235.8L279.4,237.8L276.3,237.3L273.8,234.7L270.8,234.7L269.2,236.8L270.2,240.3L268.7,243.3L268.2,247.4L269.2,249.4L270.2,253.5L268.7,257.0L266.2,260.6L263.7,263.1L260.6,266.6L259.6,272.7L258.6,278.0L260.5,290.0L261.0,295.1L261.5,300.1L260.5,305.2L259.0,310.2L257.5,315.3L255.9,319.4L259.0,320.9L262.5,321.4L264.6,323.4L267.6,323.4L270.6,324.9L274.7,326.5L278.7,327.0L282.8,327.5L286.8,329.5L289.9,332.5L292.9,336.1L293.0,336.1L293.0,336.3L297.1,341.4L302.1,347.5L306.2,352.5L308.2,354.1L312.3,352.5ZM349.1,323.9L349.0,322.4L350.0,322.4L350.0,322.5L350.0,323.7ZM356.8,232.8L353.8,233.3L350.8,232.8L347.7,234.9L344.2,233.8L342.7,231.8L343.2,230.3L345.2,227.8L348.7,228.8L351.3,226.2L355.3,225.8L358.4,227.3L358.9,230.3ZM277.3,262.6L278.4,260.8L280.4,260.6L281.6,262.1L280.9,264.1L278.9,264.6ZM273.1,255.0L271.8,254.0L272.8,251.9L275.8,249.9L277.1,250.9L275.3,253.3ZM270.1,306.2L267.8,305.2L266.8,301.6L268.6,300.1L271.1,301.1L271.9,304.2ZM369.8,357.0L371.3,359.0L371.4,358.8L372.1,359.7L373.9,358.3L373.2,354.9L371.4,352.0L369.5,352.8L369.8,354.4ZM349.2,361.1L346.2,362.1L343.7,361.1L342.1,358.6L341.1,359.1L342.7,362.7L346.2,363.7L349.8,362.7ZM373.8,308.2L373.5,311.9L375.1,316.0L377.1,319.7L378.9,322.4L379.6,322.6L379.4,322.9L376.8,326.5L375.3,329.7L376.5,330.5L377.9,328.0L380.4,323.9L383.9,320.4L380.4,317.9L379.2,314.3L376.5,310.2L375.9,306.2L374.7,298.6L373.1,298.6L374.3,306.7L374.5,308.5ZM392.5,327.5L397.6,328.0L402.7,328.0L406.2,330.0L409.8,331.5L414.8,331.5L418.1,329.8L421.1,331.8L424.2,335.3L427.2,339.4L430.2,343.4L433.3,347.5L435.3,350.5L435.4,349.6L435.0,354.9L433.9,358.0L429.3,357.6L424.8,357.2L421.0,358.0L417.2,359.9L413.4,362.5L410.4,362.5L410.1,363.3L409.8,362.5L408.2,359.5L406.7,356.5L408.2,353.4L409.8,349.4L408.2,345.3L406.2,341.8L403.7,341.8L402.7,345.3L400.6,347.9L398.6,345.3L396.6,341.8L393.5,340.2L390.0,341.8L392.0,344.8L394.6,349.4L395.6,353.4L395.1,356.5L397.1,359.5L400.6,361.5L403.7,364.6L402.7,368.1L400.6,370.6L396.3,372.8L392.8,373.8L390.8,377.3L388.7,381.4L387.7,385.4L386.2,389.5L386.2,394.0L388.7,396.6L391.8,398.1L395.3,399.6L398.9,401.1L402.4,400.1L407.5,400.1L412.5,401.1L417.6,401.1L421.6,400.1L425.2,400.6L427.7,403.1L430.8,405.7L433.8,408.2L436.8,408.7L437.9,405.7L434.8,403.1L431.8,400.1L428.7,397.6L430.2,395.0L431.3,390.5L430.2,385.9L427.2,382.9L423.7,382.4L420.6,380.4L420.2,378.4L418.7,374.6L414.9,370.1L411.9,367.8L414.9,364.8L418.7,361.8L422.5,359.5L426.3,360.2L430.1,360.2L433.9,361.4L435.3,359.6L437.3,362.7L440.4,364.2L442.9,362.1L442.4,358.6L440.9,355.6L442.4,353.0L446.5,352.5L450.5,353.5L453.5,355.1L457.1,357.6L460.6,358.1L464.7,356.6L468.7,356.1L472.8,354.6L476.3,353.5L477.3,351.5L474.8,350.5L470.8,350.5L467.2,351.0L464.7,353.0L461.6,354.1L457.6,353.0L453.5,351.0L450.5,349.0L446.5,347.5L442.4,346.5L439.4,344.9L437.9,341.4L437.3,337.3L434.8,334.3L431.8,330.8L430.0,325.4L424.9,322.4L420.9,318.9L416.8,315.3L412.8,312.8L408.7,311.8L404.7,310.2L400.6,307.7L396.6,305.7L392.5,304.7L388.5,305.7L385.9,309.2L384.4,314.3L383.4,319.4L385.4,323.4L388.5,326.5ZM404.2,371.8L403.9,370.0L407.0,369.4L410.0,370.7L410.3,372.1L407.0,372.2ZM378.8,351.0L379.4,351.4L382.4,353.4L384.9,356.5L386.5,354.9L386.3,354.5L386.8,354.9L386.0,350.1L383.8,346.2L379.2,345.5L375.3,343.2L373.0,337.7L371.2,334.1L370.9,334.6L370.8,334.2L368.7,335.2L368.7,340.2L369.4,341.3L371.2,344.6L374.6,348.3L377.6,351.5Z" fill="none" stroke="#c8ff30" stroke-width="0.5" stroke-linejoin="round"/></g>
<path d="M231.9,329.5L233.4,331.7L236.0,331.0L237.7,327.0L240.2,324.9L242.3,326.7L242.1,331.3L244.8,333.0L246.1,328.5L245.5,323.4L242.1,320.4L237.2,321.2L233.4,324.4Z" fill="#55f5ff"/>
<path d="M232.8,329.4L233.7,330.9L235.5,330.4L237.0,326.7L237.1,326.6L237.1,326.5L237.1,326.5L237.2,326.4L237.3,326.4L239.8,324.4L239.8,324.3L239.9,324.3L240.0,324.2L240.0,324.2L240.1,324.2L240.2,324.2L240.3,324.2L240.3,324.2L240.4,324.2L240.5,324.2L240.5,324.3L240.6,324.3L240.7,324.3L240.7,324.4L242.8,326.1L242.8,326.1L242.9,326.2L242.9,326.3L243.0,326.3L243.0,326.4L243.0,326.5L243.0,326.5L243.0,326.6L243.0,326.7L242.8,330.9L244.4,331.9L245.4,328.4L244.8,323.8L241.9,321.2L237.5,321.9L234.0,324.9Z" fill="#a8fff0"/>
<path d="M225.9,332.3L224.9,336.1L226.5,340.8L228.7,345.3L232.2,345.9L233.4,342.7L231.8,338.4L228.9,333.3Z" fill="#55f5ff"/>
<path d="M226.4,333.2L225.6,336.1L227.1,340.6L229.2,344.7L231.7,345.1L232.6,342.7L231.1,338.7L228.4,333.9Z" fill="#7dff60"/>
<path d="M226.8,334.1L226.3,336.0L227.8,340.3L229.6,344.0L231.2,344.3L231.9,342.7L230.5,339.0L228.0,334.5Z" fill="#a0ff00"/>
<path d="M240.1,341.1L241.3,343.5L245.3,343.5L249.4,342.9L251.2,339.6L249.4,335.4L245.8,334.4L242.3,337.6Z" fill="#55f5ff"/>
<path d="M241.1,341.2L241.8,342.5L245.2,342.5L248.8,342.0L250.1,339.6L248.7,336.2L246.1,335.4L243.0,338.2Z" fill="#7dff60"/>
<path d="M242.2,341.2L242.4,341.6L245.2,341.6L248.2,341.1L249.1,339.5L248.0,336.9L246.3,336.5L243.8,338.8Z" fill="#ffe800"/>
<path d="M258.8,344.5L258.4,343.1L257.6,342.1L256.3,341.5L255.0,341.5L253.7,342.1L252.8,343.1L252.6,344.5L252.8,345.8L253.7,346.9L255.0,347.5L256.3,347.5L257.6,346.9L258.4,345.8Z" fill="#55f5ff"/>
<path d="M257.9,344.5L257.7,343.5L257.1,342.7L256.2,342.3L255.1,342.3L254.2,342.7L253.6,343.5L253.4,344.5L253.6,345.5L254.2,346.3L255.1,346.7L256.2,346.7L257.1,346.3L257.7,345.5Z" fill="#7dff60"/>
<path d="M257.1,344.5L257.0,343.9L256.6,343.3L256.0,343.1L255.3,343.1L254.7,343.3L254.3,343.8L254.2,344.5L254.3,345.1L254.7,345.6L255.3,345.9L256.0,345.9L256.6,345.6L257.0,345.1Z" fill="#ffe800"/>
<path d="M242.0,312.0L241.8,311.4L241.4,310.9L240.9,310.6L240.2,310.6L239.7,310.9L239.3,311.4L239.2,312.0L239.3,312.6L239.7,313.1L240.2,313.3L240.9,313.3L241.4,313.1L241.8,312.6Z" fill="#55f5ff"/>
<path d="M259.7,330.0L260.9,333.0L262.9,336.4L265.8,340.2L268.8,336.1L269.8,330.5L268.8,324.2L263.8,326.1Z" fill="#55f5ff"/>
<path d="M260.6,330.2L261.6,332.7L263.6,336.0L265.8,339.0L268.1,335.8L269.1,330.5L268.2,325.2L264.2,326.7Z" fill="#7dff60"/>
<path d="M261.5,330.4L262.3,332.4L264.2,335.5L265.8,337.7L267.4,335.5L268.3,330.5L267.6,326.3L264.6,327.4Z" fill="#ffe800"/>
<path d="M262.3,330.6L262.9,332.0L264.8,335.1L265.8,336.4L266.7,335.2L267.5,330.5L267.0,327.3L265.0,328.0Z" fill="#ff7800"/>
<path d="M244.3,313.1L245.1,315.3L246.5,317.1L247.1,320.0L248.6,319.4L248.3,316.5L249.6,314.3L246.5,312.5Z" fill="#55f5ff"/>
<path d="M245.1,313.5L245.6,315.0L247.0,316.8L247.0,316.8L247.1,316.9L247.1,316.9L247.1,317.0L247.1,317.0L247.6,319.1L247.9,319.0L247.8,316.6L247.8,316.5L247.8,316.5L247.8,316.4L247.8,316.3L247.8,316.3L247.8,316.2L248.8,314.5L246.4,313.1Z" fill="#7dff60"/>
<path d="M198.8,215.8L197.2,215.4L195.2,216.1L193.3,217.6L191.8,219.8L191.0,222.2L191.0,224.3L192.0,225.7L193.6,226.1L195.6,225.4L197.5,223.8L199.1,221.7L199.9,219.3L199.8,217.2Z" fill="#55f5ff"/>
<path d="M198.5,216.3L197.2,215.9L195.5,216.5L193.7,218.0L192.2,220.0L191.5,222.3L191.5,224.1L192.3,225.2L193.6,225.5L195.3,225.0L197.2,223.5L198.6,221.4L199.4,219.2L199.3,217.4Z" fill="#7dff60"/>
<path d="M198.2,216.7L197.3,216.5L195.7,216.9L194.0,218.3L192.7,220.3L192.0,222.3L192.0,223.9L192.6,224.8L193.6,225.0L195.1,224.5L196.8,223.2L198.1,221.2L198.9,219.1L198.8,217.5Z" fill="#ffe800"/>
<path d="M197.9,217.1L197.3,217.0L196.0,217.4L194.4,218.7L193.1,220.5L192.5,222.4L192.5,223.8L192.9,224.3L193.5,224.5L194.8,224.1L196.4,222.8L197.7,221.0L198.4,219.1L198.3,217.7Z" fill="#ff7800"/>
<path d="M197.6,217.6L197.3,217.5L196.2,217.8L194.8,219.0L193.6,220.7L193.0,222.5L193.0,223.6L193.2,223.9L193.5,224.0L194.6,223.6L196.0,222.5L197.2,220.7L197.8,219.0L197.8,217.8Z" fill="#ff2a00"/>
<path d="M197.2,231.2L196.7,229.8L195.1,228.8L192.9,228.2L190.4,228.2L188.1,228.8L186.6,229.8L186.0,231.2L186.6,232.4L188.1,233.5L190.4,234.1L192.9,234.1L195.1,233.5L196.7,232.4Z" fill="#55f5ff"/>
<path d="M196.7,231.2L196.3,230.2L194.9,229.3L192.8,228.7L190.4,228.7L188.3,229.3L187.0,230.2L186.6,231.2L187.0,232.1L188.3,233.0L190.4,233.6L192.8,233.6L194.9,233.0L196.3,232.1Z" fill="#7dff60"/>
<path d="M196.1,231.2L195.9,230.5L194.7,229.7L192.7,229.2L190.5,229.2L188.5,229.7L187.4,230.5L187.1,231.1L187.4,231.8L188.5,232.6L190.5,233.1L192.7,233.1L194.7,232.6L195.9,231.8Z" fill="#ffe800"/>
<path d="M195.6,231.1L195.5,230.8L194.5,230.2L192.7,229.7L190.6,229.7L188.8,230.2L187.8,230.8L187.7,231.2L187.8,231.5L188.8,232.1L190.6,232.6L192.7,232.6L194.5,232.1L195.5,231.5Z" fill="#ff7800"/>
<path d="M188.2,231.1L189.0,231.6L190.6,232.1L192.6,232.1L194.3,231.6L195.0,231.1L194.3,230.7L192.6,230.2L190.6,230.2L189.0,230.7Z" fill="#ff2a00"/>
<path d="M163.1,230.8L163.0,230.2L162.6,229.7L162.0,229.4L161.3,229.4L160.7,229.7L160.3,230.2L160.1,230.8L160.3,231.5L160.7,232.0L161.3,232.3L162.0,232.3L162.6,232.0L163.0,231.5Z" fill="#7dff60"/>
<path d="M162.5,230.8L162.4,230.4L162.2,230.1L161.8,230.0L161.4,230.0L161.1,230.1L160.8,230.4L160.8,230.8L160.8,231.2L161.1,231.5L161.4,231.7L161.8,231.7L162.2,231.5L162.4,231.2Z" fill="#ffe800"/>
<path d="M331.6,171.0L330.8,170.7L329.6,171.0L328.4,171.9L327.4,173.1L326.8,174.4L326.7,175.6L327.1,176.3L328.0,176.6L329.1,176.3L330.3,175.5L331.3,174.3L331.9,172.9L332.0,171.8Z" fill="#55f5ff"/>
<path d="M331.3,171.4L330.8,171.2L329.8,171.5L328.8,172.2L327.8,173.3L327.3,174.5L327.2,175.5L327.4,176.0L328.0,176.2L328.9,175.9L330.0,175.1L330.9,174.0L331.5,172.8L331.6,171.9Z" fill="#7dff60"/>
<path d="M331.0,171.7L330.7,171.7L330.0,171.9L329.1,172.5L328.2,173.6L327.7,174.6L327.6,175.4L327.7,175.6L328.0,175.7L328.7,175.5L329.7,174.8L330.5,173.8L331.0,172.7L331.1,172.0Z" fill="#ffe800"/>
<path d="M328.1,175.2L328.5,175.1L329.4,174.5L330.1,173.5L330.6,172.6L330.6,172.2L330.2,172.3L329.4,172.9L328.6,173.8L328.1,174.8Z" fill="#ff7800"/>
<path d="M332.3,181.0L332.1,180.1L331.6,179.5L330.8,179.1L330.0,179.1L329.2,179.5L328.7,180.1L328.5,181.0L328.7,181.8L329.2,182.4L330.0,182.8L330.8,182.8L331.6,182.4L332.1,181.8Z" fill="#55f5ff"/>
<path d="M331.8,181.0L331.7,180.3L331.3,179.8L330.7,179.6L330.1,179.6L329.5,179.8L329.1,180.3L328.9,181.0L329.1,181.6L329.5,182.1L330.1,182.4L330.7,182.4L331.3,182.1L331.7,181.6Z" fill="#7dff60"/>
<path d="M331.4,181.0L331.3,180.5L331.0,180.2L330.6,180.0L330.2,180.0L329.8,180.2L329.5,180.5L329.4,181.0L329.5,181.4L329.8,181.7L330.2,181.9L330.6,181.9L331.0,181.7L331.3,181.4Z" fill="#ffe800"/>
<path d="M330.9,181.0L330.8,180.7L330.7,180.6L330.5,180.5L330.3,180.5L330.1,180.6L329.9,180.7L329.9,181.0L329.9,181.2L330.1,181.4L330.3,181.5L330.5,181.5L330.7,181.4L330.8,181.2Z" fill="#ff7800"/>
<path d="M363.0,180.8L362.8,179.9L362.2,179.3L361.5,178.9L360.6,178.9L359.9,179.3L359.4,179.9L359.2,180.8L359.4,181.6L359.9,182.2L360.6,182.6L361.5,182.6L362.2,182.2L362.8,181.6Z" fill="#55f5ff"/>
<path d="M362.5,180.8L362.4,180.1L362.0,179.6L361.4,179.4L360.7,179.4L360.2,179.6L359.8,180.1L359.6,180.8L359.8,181.4L360.2,181.9L360.7,182.2L361.4,182.2L362.0,181.9L362.4,181.4Z" fill="#7dff60"/>
<path d="M362.0,180.8L361.9,180.3L361.7,180.0L361.3,179.8L360.8,179.8L360.5,180.0L360.2,180.3L360.1,180.8L360.2,181.2L360.5,181.5L360.8,181.7L361.3,181.7L361.7,181.5L361.9,181.2Z" fill="#ffe800"/>
<path d="M361.6,180.8L361.5,180.5L361.4,180.4L361.2,180.3L360.9,180.3L360.7,180.4L360.6,180.5L360.5,180.8L360.6,181.0L360.7,181.2L361.0,181.3L361.2,181.3L361.4,181.2L361.5,181.0Z" fill="#ff7800"/>
<path d="M384.1,231.8L383.8,230.8L383.1,229.9L382.2,229.5L381.1,229.5L380.1,229.9L379.5,230.8L379.2,231.8L379.5,232.9L380.1,233.7L381.1,234.2L382.2,234.2L383.1,233.7L383.8,232.9Z" fill="#55f5ff"/>
<path d="M383.5,231.8L383.3,231.0L382.8,230.4L382.1,230.0L381.2,230.0L380.5,230.4L379.9,231.0L379.8,231.8L379.9,232.6L380.5,233.3L381.2,233.7L382.1,233.7L382.8,233.3L383.3,232.6Z" fill="#7dff60"/>
<path d="M383.0,231.8L382.9,231.2L382.5,230.8L381.9,230.5L381.3,230.5L380.8,230.8L380.4,231.2L380.3,231.8L380.4,232.4L380.8,232.9L381.3,233.2L382.0,233.2L382.5,232.9L382.9,232.4Z" fill="#ffe800"/>
<path d="M382.5,231.8L382.4,231.5L382.2,231.2L381.8,231.0L381.5,231.0L381.1,231.2L380.9,231.4L380.8,231.8L380.9,232.2L381.1,232.5L381.5,232.7L381.8,232.7L382.2,232.5L382.4,232.2Z" fill="#ff7800"/>
<path d="M372.0,293.0L371.9,292.2L371.4,291.5L370.8,291.1L370.2,291.1L369.6,291.5L369.1,292.2L369.0,293.0L369.1,293.9L369.6,294.6L370.2,295.0L370.8,295.0L371.4,294.6L371.9,293.9Z" fill="#55f5ff"/>
<path d="M371.6,293.0L371.5,292.3L371.1,291.8L370.7,291.5L370.3,291.5L369.9,291.8L369.5,292.3L369.4,293.0L369.5,293.8L369.9,294.3L370.3,294.6L370.7,294.6L371.1,294.3L371.5,293.8Z" fill="#7dff60"/>
<path d="M371.2,293.0L371.1,292.5L370.9,292.0L370.6,291.9L370.4,291.9L370.2,292.0L369.9,292.4L369.8,293.0L369.9,293.6L370.2,294.0L370.4,294.2L370.6,294.2L370.9,294.0L371.1,293.6Z" fill="#ffe800"/>
<path d="M370.5,292.3L370.5,292.3L370.3,292.6L370.2,293.0L370.3,293.5L370.5,293.7L370.5,293.8L370.6,293.7L370.7,293.5L370.8,293.0L370.7,292.6L370.6,292.3Z" fill="#ff7800"/>
<path d="M375.4,301.6L375.3,300.2L374.9,299.0L374.4,298.3L373.7,298.3L373.2,299.0L372.8,300.2L372.6,301.6L372.8,303.1L373.2,304.3L373.7,305.0L374.4,305.0L374.9,304.3L375.3,303.1Z" fill="#55f5ff"/>
<path d="M375.0,301.6L374.9,300.3L374.6,299.2L374.2,298.7L373.9,298.7L373.5,299.2L373.2,300.3L373.1,301.6L373.2,303.0L373.5,304.1L373.9,304.6L374.2,304.6L374.6,304.1L374.9,303.0Z" fill="#7dff60"/>
<path d="M374.1,299.2L373.9,299.4L373.6,300.3L373.5,301.6L373.6,303.0L373.9,303.9L374.1,304.1L374.2,303.9L374.5,303.0L374.6,301.6L374.5,300.3L374.2,299.4Z" fill="#ffe800"/>
<path d="M374.1,300.2L374.0,300.4L373.9,301.6L374.0,302.9L374.1,303.1L374.1,302.9L374.2,301.6L374.1,300.4Z" fill="#ff7800"/>
<path d="M422.0,340.4L421.9,339.8L421.5,339.3L420.9,339.0L420.3,339.0L419.8,339.3L419.4,339.8L419.2,340.4L419.4,341.0L419.8,341.5L420.3,341.7L420.9,341.7L421.5,341.5L421.9,341.0Z" fill="#55f5ff"/>
<path d="M421.6,340.4L421.5,340.0L421.2,339.6L420.8,339.5L420.4,339.5L420.0,339.6L419.8,340.0L419.7,340.4L419.8,340.8L420.0,341.1L420.4,341.3L420.8,341.3L421.2,341.1L421.5,340.8Z" fill="#7dff60"/>
<path d="M421.1,340.4L421.1,340.2L420.9,340.0L420.7,339.9L420.5,339.9L420.3,340.0L420.2,340.2L420.2,340.4L420.2,340.6L420.3,340.7L420.5,340.8L420.7,340.8L420.9,340.7L421.1,340.6Z" fill="#ffe800"/>
<path d="M426.1,340.4L425.9,339.8L425.6,339.3L425.0,339.0L424.4,339.0L423.8,339.3L423.4,339.8L423.3,340.4L423.4,341.0L423.8,341.5L424.4,341.7L425.0,341.7L425.6,341.5L425.9,341.0Z" fill="#55f5ff"/>
<path d="M425.6,340.4L425.5,340.0L425.3,339.6L424.9,339.5L424.5,339.5L424.1,339.6L423.8,340.0L423.7,340.4L423.8,340.8L424.1,341.1L424.5,341.3L424.9,341.3L425.3,341.1L425.5,340.8Z" fill="#7dff60"/>
<path d="M425.2,340.4L425.1,340.2L425.0,340.0L424.8,339.9L424.6,339.9L424.4,340.0L424.3,340.2L424.2,340.4L424.3,340.6L424.4,340.7L424.6,340.8L424.8,340.8L425.0,340.7L425.1,340.6Z" fill="#ffe800"/>
<g clip-path="url(#oc)"><g fill="none" stroke="#000" stroke-width="0.8" stroke-dasharray="3 4.8">
<line x1="547.0" y1="291.8" x2="342.99" y2="270.33" stroke-dashoffset="0.00"/>
<line x1="547.0" y1="329.0" x2="342.95" y2="270.53" stroke-dashoffset="4.82"/>
<line x1="547.0" y1="370.3" x2="342.88" y2="270.73" stroke-dashoffset="1.84"/>
<line x1="547.0" y1="419.3" x2="342.77" y2="270.91" stroke-dashoffset="6.66"/>
<line x1="526.8" y1="461.8" x2="342.63" y2="271.06" stroke-dashoffset="3.68"/>
<line x1="471.0" y1="461.8" x2="342.47" y2="271.19" stroke-dashoffset="0.70"/>
<line x1="427.1" y1="461.8" x2="342.29" y2="271.30" stroke-dashoffset="5.52"/>
<line x1="389.6" y1="461.8" x2="342.09" y2="271.36" stroke-dashoffset="2.54"/>
<line x1="355.2" y1="461.8" x2="341.88" y2="271.40" stroke-dashoffset="7.36"/>
<line x1="321.7" y1="461.8" x2="341.67" y2="271.39" stroke-dashoffset="4.38"/>
<line x1="286.9" y1="461.8" x2="341.47" y2="271.35" stroke-dashoffset="1.40"/>
<line x1="248.4" y1="461.8" x2="341.27" y2="271.28" stroke-dashoffset="6.22"/>
<line x1="202.6" y1="461.8" x2="341.09" y2="271.17" stroke-dashoffset="3.24"/>
<line x1="143.4" y1="461.8" x2="340.94" y2="271.03" stroke-dashoffset="0.27"/>
<line x1="57.7" y1="461.8" x2="340.81" y2="270.87" stroke-dashoffset="5.09"/>
<line x1="48.5" y1="400.8" x2="340.70" y2="270.69" stroke-dashoffset="2.11"/>
<line x1="48.5" y1="343.3" x2="340.64" y2="270.49" stroke-dashoffset="6.93"/>
<line x1="48.5" y1="290.7" x2="340.60" y2="270.28" stroke-dashoffset="3.95"/>
<line x1="48.5" y1="239.4" x2="340.61" y2="270.07" stroke-dashoffset="0.97"/>
<line x1="48.5" y1="186.1" x2="340.65" y2="269.87" stroke-dashoffset="5.79"/>
<line x1="48.5" y1="127.1" x2="340.72" y2="269.67" stroke-dashoffset="2.81"/>
<line x1="87.6" y1="85.5" x2="340.83" y2="269.49" stroke-dashoffset="7.63"/>
<line x1="163.4" y1="85.5" x2="340.97" y2="269.34" stroke-dashoffset="4.65"/>
<line x1="217.2" y1="85.5" x2="341.13" y2="269.21" stroke-dashoffset="1.67"/>
<line x1="259.6" y1="85.5" x2="341.31" y2="269.10" stroke-dashoffset="6.49"/>
<line x1="295.7" y1="85.5" x2="341.51" y2="269.04" stroke-dashoffset="3.51"/>
<line x1="328.9" y1="85.5" x2="341.72" y2="269.00" stroke-dashoffset="0.53"/>
<line x1="361.2" y1="85.5" x2="341.93" y2="269.01" stroke-dashoffset="5.35"/>
<line x1="394.8" y1="85.5" x2="342.13" y2="269.05" stroke-dashoffset="2.37"/>
<line x1="431.9" y1="85.5" x2="342.33" y2="269.12" stroke-dashoffset="7.19"/>
<line x1="476.0" y1="85.5" x2="342.51" y2="269.23" stroke-dashoffset="4.21"/>
<line x1="533.1" y1="85.5" x2="342.66" y2="269.37" stroke-dashoffset="1.23"/>
<line x1="547.0" y1="131.8" x2="342.79" y2="269.53" stroke-dashoffset="6.05"/>
<line x1="547.0" y1="178.8" x2="342.90" y2="269.71" stroke-dashoffset="3.07"/>
<line x1="547.0" y1="219.0" x2="342.96" y2="269.91" stroke-dashoffset="0.09"/>
<line x1="547.0" y1="255.9" x2="343.00" y2="270.12" stroke-dashoffset="4.91"/>
<circle cx="341.8" cy="270.2" r="42.5"/>
<circle cx="341.8" cy="270.2" r="85.6"/>
<circle cx="341.8" cy="270.2" r="130.1"/>
<circle cx="341.8" cy="270.2" r="176.7"/>
<circle cx="341.8" cy="270.2" r="226.4"/>
<circle cx="341.8" cy="270.2" r="280.3"/>
<circle cx="341.8" cy="270.2" r="340.0"/>
<circle cx="341.8" cy="270.2" r="407.4"/>
</g></g>
<g fill="none" stroke="#96faeb" stroke-width="0.85" stroke-linejoin="round">
<path d="M95.5,85.0L98.0,90.0L100.5,93.3L101.3,100.0L103.8,105.8L106.3,110.8L109.7,113.3L114.7,108.3L114.7,115.8L118.8,115.8L118.0,117.5L123.0,117.5L131.3,120.0L135.5,120.8L138.8,118.3L140.5,124.2L141.3,131.7L139.7,135.8L142.2,137.5L146.3,133.3L148.8,126.7L152.2,125.8L158.0,124.7L160.0,128.3L157.2,133.3L158.8,141.7L157.2,145.3L153.8,144.2L153.0,139.2L150.5,138.3L149.7,150.0L144.7,153.3L139.7,147.5L134.7,150.8L131.3,152.5L128.0,149.2L124.7,148.3L121.3,144.2L118.8,144.2L118.0,151.7L117.2,156.7L120.5,160.0L126.3,162.0L134.7,161.7L140.5,160.3L142.2,163.3L142.2,170.0L146.3,173.3L148.8,180.0L150.5,187.0M74.7,125.8L76.3,128.7L77.3,131.3M107.2,156.7L108.8,161.7L110.5,168.3L111.3,175.0L110.5,181.7L109.3,187.0L110.5,187.0L113.0,191.2L112.2,195.3L114.7,200.3L118.8,205.3L124.7,208.7L129.7,210.3L130.5,211.2L134.7,210.3L138.8,212.0L138.0,215.3M105.5,160.8L106.7,168.3L105.5,175.8L103.0,180.8L98.0,179.2L97.2,183.3L99.3,187.0L99.7,187.0L98.8,193.7L100.5,197.0L98.8,200.3L103.0,203.7L109.7,207.8L116.3,211.2L121.3,213.7L128.0,214.5L133.0,215.0L138.0,215.3M150.5,256.2L152.2,257.8M145.5,187.0L148.0,193.7L153.0,202.0M152.0,203.7L154.2,207.0L160.0,214.5L166.7,220.3L175.0,223.7L181.7,227.8L185.8,229.5L190.0,226.2L191.7,220.3L198.3,216.2L200.0,220.3L203.3,226.2L207.5,232.8L211.7,238.7L211.7,247.0L210.0,253.7L210.8,256.2L208.3,258.7L207.5,265.3L210.0,268.7L215.0,270.3L218.3,273.7L220.8,277.8L219.2,280.3L216.7,277.8L215.0,280.3L214.2,283.7L208.3,281.2L205.0,277.8L200.0,272.0L195.0,269.5L188.3,268.7L178.3,270.3L170.8,271.2L165.8,268.7M165.8,268.7L170.8,272.3L175.0,276.2L180.8,282.0L185.8,281.2L190.0,285.3L195.0,287.0L205.6,289.8L211.7,289.0M211.7,289.0L215.0,294.0L215.8,302.3L221.7,306.5L227.5,311.5L231.7,316.5L236.7,315.7L239.2,311.5L242.5,314.0L245.8,315.7L246.7,319.8L246.7,326.5L250.0,328.2L255.0,327.3L258.3,329.8L257.5,322.3L256.7,317.3M258.3,330.7L256.7,334.0L255.8,338.2L258.3,340.7L261.7,343.2L258.3,346.5L253.3,345.7L246.7,346.5L244.2,349.0L242.5,354.8L244.2,359.0L242.5,362.3L245.0,365.7L248.3,369.0L247.5,371.5L241.7,372.3L235.0,371.5L228.3,369.8L222.5,369.0L221.7,370.7L228.3,372.3L235.0,374.8L241.7,375.7L248.3,375.7L255.0,374.8L256.7,372.3L261.7,371.5L267.5,370.7L268.3,372.3L263.3,374.0L260.0,375.7L261.7,377.3L266.7,376.5L270.8,374.8L273.3,379.0L276.7,382.3L275.0,380.8L280.0,385.0L285.0,389.2L287.5,395.0L290.0,401.7L291.7,408.3L294.2,415.8L297.5,423.3L300.0,431.7L302.5,438.3L305.8,446.7L307.5,453.3L308.7,461.5M190.8,344.8L192.5,348.2M185.5,316.5L186.2,318.7M191.0,297.3L192.0,296.0M196.3,352.0L197.7,353.0M350.0,180.8L353.3,178.7L360.0,180.0L365.0,181.7L370.8,179.2L374.2,175.8L373.3,180.8L375.8,185.0L378.3,180.8L380.0,175.8L385.0,176.7L388.3,175.0L390.0,171.7L393.3,175.0L396.7,171.7L398.3,175.8L395.8,181.7L396.7,187.5L394.2,183.3L390.0,180.0L385.8,178.3L383.3,180.8L384.2,186.7L386.7,192.5L390.0,198.3L392.5,201.7L391.7,205.0L395.0,208.3L400.0,210.0L405.8,210.8L411.7,211.7L416.7,212.5L413.3,210.8L418.3,210.0L425.0,208.3L431.7,207.5L438.3,208.3L443.3,210.0L448.3,210.8L453.3,208.3L456.7,205.0L460.0,201.7L461.7,198.3L456.7,195.8L451.7,194.2L455.0,189.2L458.3,184.2L460.0,180.8L463.3,180.0L466.7,182.5L470.0,180.8L472.0,182.5M340.0,180.8L350.0,185.0L357.5,189.2L360.8,194.2L358.7,200.0L354.2,205.8L346.7,211.3L340.0,214.2M460.0,180.8L462.5,178.3L458.3,175.8L453.3,176.7L446.7,178.3L440.0,180.0L437.5,182.5L435.8,187.5L430.0,190.0L423.3,190.8L417.5,193.3L412.5,193.3L411.7,190.0L415.0,188.3L421.7,187.5L426.7,185.8L430.8,180.8L430.0,175.0L426.7,171.7L421.7,169.2L418.3,165.0L420.0,165.8L425.0,168.3L430.8,171.7L433.3,173.3L434.2,168.3L436.7,164.2L440.0,165.0L439.2,169.2L443.3,167.5L448.3,164.2L455.0,162.5L456.7,165.8L460.0,168.3L464.2,170.8L466.7,175.0L467.5,179.2M474.1,92.6L477.1,90.3L481.6,93.3L484.7,97.2L486.2,94.9L488.5,91.1L490.8,86.8L492.3,89.6L489.2,92.6L487.0,96.4L485.4,99.4L488.5,102.5L492.3,104.8L495.3,104.0L496.1,107.0L497.6,104.0L498.4,99.4L499.1,93.3L501.4,92.6L502.6,97.2L504.7,100.2L506.7,101.7L509.0,100.2L512.0,95.6L510.5,91.8L508.7,91.1L507.2,94.1L505.2,92.6L504.1,94.9M507.5,102.5L506.7,107.8L505.2,114.6L500.6,119.2L499.9,124.5L500.6,132.1L501.4,138.2L499.1,142.7L498.4,147.3L499.9,151.1L503.7,152.1L506.7,149.6L508.2,144.2L509.8,138.2L509.8,132.1L508.2,128.3L509.0,123.0L508.2,118.4L509.8,117.7L511.3,122.2L513.5,123.0L515.8,119.9L520.4,117.7L524.9,118.4L528.7,116.1L531.8,116.9L533.3,123.0L534.1,127.5L531.8,129.1L529.5,125.3L527.2,120.7L522.7,120.7L518.9,122.2L516.6,126.0L516.6,132.1L517.4,138.2L518.1,144.2L516.6,150.3L514.3,153.4L512.8,155.6L514.3,159.4L518.9,160.9L522.7,163.2L525.7,167.0L527.2,171.6L531.0,173.1L534.8,171.6L539.4,173.1L543.2,176.1L545.5,178.0M547.0,129.1L543.2,130.6L541.6,134.4L543.9,138.2L547.0,139.7M525.7,170.0L528.7,173.0L533.3,172.3L537.9,173.8L542.4,176.1L547.0,176.8M458.9,176.8L462.7,179.9L466.5,178.3L470.3,180.6L468.0,185.2L463.4,186.7L458.9,189.8L462.7,192.8L466.5,191.3L470.3,187.5L474.1,184.4L477.9,185.2L480.9,189.0L484.7,190.5L490.8,191.3L495.3,193.6L499.9,195.8L504.4,198.1L507.5,201.9L510.5,200.4L512.8,204.2L515.1,208.7L518.1,208.0L517.4,202.7L519.6,197.3L524.2,192.8L530.3,191.3L535.6,190.5L537.9,195.1L539.4,201.9L541.6,208.0L543.9,213.3L547.7,216.3M430.0,190.5L434.6,188.2L437.6,184.4L436.8,180.6L442.1,179.1L448.2,176.8L454.3,175.3L458.9,176.8L457.3,182.2L455.1,187.5L451.3,193.6L455.1,195.8L459.6,198.1L461.9,201.1L458.9,204.9L454.3,208.0L449.0,211.0L442.9,209.5L437.6,207.2L430.0,206.5M477.5,355.8L481.7,356.7L485.0,360.0L483.3,366.7L484.2,373.3L480.8,378.3L476.7,383.3L472.5,389.2L471.7,396.7L472.5,405.0L473.3,410.8L474.2,400.0L475.8,393.3L479.2,389.2L481.7,390.8L482.5,395.0L485.8,394.2L490.0,395.8L493.3,394.2L495.8,390.0L496.7,385.0L500.0,385.8L501.7,389.2L500.0,395.0L498.3,400.0L497.5,406.7L495.0,408.3L493.3,404.2L492.5,399.2L490.8,405.0L489.2,411.7L486.7,417.5L485.8,421.7L488.3,425.0L492.5,426.7L490.8,430.8L488.3,435.0L485.8,440.0L486.2,408.9L485.2,418.4L488.1,425.0L492.8,427.9L490.0,434.5L486.2,438.3L484.3,442.1L487.1,444.0L486.2,448.7L483.3,451.6L484.3,456.3L488.1,455.3L489.0,461.6M427.5,406.7L431.7,409.7L438.3,412.5L437.5,408.3L440.0,403.3L438.3,396.7L435.0,390.0L431.7,385.0L429.2,380.0L426.7,375.8L428.0,371.7M415.0,354.2L421.7,356.7L428.3,358.3L435.0,361.7L441.7,365.8L448.3,365.0L453.3,361.7L460.0,360.8L468.3,358.3L477.5,355.8M441.7,365.8L438.3,366.7L431.7,365.0L425.0,363.3L418.3,362.5L415.0,363.3M400.4,358.1L394.3,359.1L389.8,359.6L388.7,363.1L390.2,367.2L391.8,371.2L388.7,373.8L387.2,378.3L385.2,382.4L384.2,387.4L385.2,392.5L387.7,396.6L391.8,399.6L395.3,402.6L399.4,401.6L404.4,402.6L410.5,402.1L416.6,402.6L422.7,401.6L426.7,404.7L430.8,408.7L434.8,411.2L438.9,410.7L439.9,407.2M332.2,168.4L333.9,169.9L331.6,173.7L329.9,176.7L330.4,180.2L331.6,184.3L332.6,189.4L332.2,192.4M331.6,168.6L328.4,172.7L326.9,176.0L327.5,180.2L329.4,184.8L330.2,189.4L329.4,192.9M337.0,176.7L338.5,180.2L340.0,185.3L340.5,189.4L339.0,193.4L336.5,198.5M310.8,220.8L312.0,225.8L314.2,230.0L318.3,232.5L323.3,235.0M293.7,215.8L295.3,218.0L296.0,220.3M266.7,235.3L268.7,233.7L270.3,233.3M382.0,330.7L387.0,328.3L392.0,329.0L398.7,330.3L404.5,331.7L410.3,333.3L414.5,337.8L417.8,341.2L423.7,340.0L429.5,344.5L425.7,348.3L430.3,351.2L434.5,353.7L432.0,357.8L427.0,356.2L422.0,357.8L417.8,360.3M415.3,353.7L420.3,352.0L425.7,352.8L430.3,355.3"/>
<path d="M77.2,85.0L80.5,90.8L83.8,95.0L87.2,96.7L88.0,91.7L85.5,85.0ZM93.8,153.3L97.2,150.8L101.3,153.3L105.5,152.5L107.2,156.7L105.5,160.8L101.3,162.5L98.0,160.0L94.7,156.7ZM98.8,166.7L102.2,164.7L105.5,166.7L104.7,171.7L103.0,176.3L99.7,175.0L100.5,170.8L98.5,169.2ZM134.7,213.7L138.8,217.8L143.8,219.5L148.8,221.2L144.7,224.5L140.5,227.8L138.8,232.0L135.5,232.8L134.7,227.0L131.3,222.8L133.0,219.5L134.7,216.2ZM139.7,237.8L141.3,240.0L145.0,245.3L143.8,244.5L140.7,240.3ZM145.5,247.8L148.0,252.0L147.0,251.3ZM150.8,222.8L158.3,224.5L166.7,225.3L175.0,225.0L183.3,228.7L188.0,230.7L188.0,234.0L180.0,233.7L171.7,232.8L164.2,233.7L160.0,227.8L155.0,226.2L151.7,227.8L153.3,225.3ZM207.5,364.0L211.7,363.7L215.8,366.0L214.2,367.3L210.0,366.0ZM248.3,379.0L254.2,378.7L254.2,381.5L248.3,381.7ZM237.5,348.2L239.7,348.7L240.3,351.0L238.3,350.7ZM290.0,419.2L292.5,420.8L294.2,430.0L291.7,429.2L290.3,424.2ZM299.2,438.3L303.3,439.2L309.2,444.2L313.3,447.5L315.0,453.3L313.7,457.0L310.0,453.3L305.8,448.3L301.7,443.3ZM289.7,397.5L292.5,400.0L295.0,406.7L294.2,415.8L291.3,410.0L290.0,403.3ZM335.8,395.8L339.2,392.5L340.0,390.0L343.3,391.7L347.5,388.3L351.7,387.5L350.0,390.0L345.8,393.3L342.5,395.8L338.3,397.2ZM348.3,406.3L351.7,402.0L356.7,403.0L353.3,405.0L350.8,406.7ZM369.5,406.3L371.0,406.7L371.7,411.7L370.5,415.0L369.3,411.7ZM383.3,423.7L386.7,424.2L391.7,430.0L395.0,434.2L394.2,437.5L390.0,434.2L385.8,430.0ZM377.5,428.3L380.8,429.2L384.2,433.3L387.5,436.7L389.7,440.3L386.7,438.3L383.3,435.0L380.0,432.0ZM238.3,135.8L234.2,140.0L232.5,148.3L234.2,156.7L238.0,161.7L237.5,156.7L235.5,149.2L235.8,141.7ZM410.8,163.3L414.2,162.5L416.7,165.0L415.8,169.2L412.5,170.0L410.8,166.7ZM403.0,161.7L404.7,162.0L404.3,166.7L403.0,169.2L402.3,165.8ZM369.2,236.7L372.5,231.7L378.3,230.0L383.7,231.7L382.5,236.7L379.2,240.8L374.2,242.5L370.8,240.8ZM430.0,99.4L433.8,95.6L439.1,95.6L444.4,97.9L449.8,97.2L451.3,101.0L447.5,104.0L450.5,107.8L453.6,111.6L458.9,110.1L462.7,107.8L467.2,104.8L473.3,102.5L475.6,97.9L474.1,92.6L470.3,89.6L462.7,88.0L455.8,86.2L448.2,89.6L440.6,95.6L438.4,91.8L435.3,86.2L430.0,88.0ZM518.9,153.4L521.9,152.6L524.9,150.3L524.5,153.4L521.1,154.9ZM527.2,146.5L530.3,144.2L534.8,143.5L537.1,145.0L535.6,148.0L531.8,149.6L529.5,151.8L527.2,150.3ZM490.8,198.9L495.3,198.1L497.6,197.3L499.9,200.4L502.2,204.2L504.4,208.7L507.5,211.8L509.0,214.1L505.9,212.5L502.9,210.3L500.6,208.7L501.4,213.3L498.4,214.8L495.3,215.6L492.3,213.3L489.2,214.1L487.0,217.1L485.4,220.9L481.6,223.2L477.1,225.4L474.1,228.5L472.5,227.7L475.6,224.7L472.5,224.7L469.8,222.4L473.3,220.1L472.5,217.8L477.1,216.3L480.1,214.1L482.4,210.3L485.4,206.5L488.5,204.2L490.8,201.9ZM487.7,223.2L490.8,220.9L495.3,220.1L499.9,219.4L502.9,221.7L505.2,225.4L505.9,228.5L502.9,230.0L499.9,228.5L496.8,230.8L493.8,231.5L490.8,229.2L488.5,227.0ZM442.5,253.6L445.6,251.3L449.6,250.9L452.7,253.6L455.2,257.2L456.2,260.7L455.2,264.2L454.2,267.8L452.1,267.3L450.6,269.3L449.6,268.3L447.6,269.3L446.1,267.8L444.6,269.3L443.5,267.8L445.1,265.3L447.1,264.2L444.6,262.7L443.5,259.2L442.5,256.7ZM377.0,268.0L383.0,262.0L395.0,265.0L410.0,265.5L420.0,268.0L430.9,276.0L440.5,285.5L444.6,295.0L448.6,301.0L453.7,306.2L459.5,307.8L464.5,311.2L464.5,316.2L460.3,320.3L455.3,322.0L448.7,322.8L440.3,322.0L432.0,320.3L427.0,317.8L422.8,314.5L421.2,311.2L417.8,309.5L413.0,308.5L408.0,309.0L403.0,306.0L397.0,304.5L392.0,303.0L388.0,304.0L385.0,307.0L383.0,311.0L380.0,308.0L377.0,300.0L375.5,292.0L375.0,285.0L378.0,278.0ZM485.0,360.0L490.8,367.5L495.8,380.0L498.3,375.8L501.7,370.0L505.8,366.7L510.0,364.2L507.5,362.5L504.2,361.7L501.7,360.0L498.3,361.7L495.8,360.8L492.5,364.2L490.8,362.5L488.3,360.8ZM477.5,384.2L481.7,381.7L485.0,381.3L482.5,384.2L479.2,385.3ZM413.3,449.7L417.1,441.1L420.8,434.5L426.5,432.6L433.1,435.4L436.9,439.2L431.2,440.2L426.5,444.0L422.7,442.1L418.9,446.8L416.1,450.2ZM436.9,439.6L434.7,444.9L431.8,452.5L434.1,458.2L436.0,461.6L440.7,460.4L437.9,452.5L436.0,444.9ZM438.8,440.2L444.5,436.4L451.1,435.4L455.9,437.4L453.0,441.1L449.2,440.2L452.1,445.9L450.2,448.7L446.4,445.9L444.5,442.1L440.7,443.0ZM452.1,457.2L455.9,451.6L460.6,446.8L463.4,444.9L462.5,447.8L458.7,453.4L454.9,457.8ZM459.7,442.1L463.4,436.4L467.2,432.1L469.7,434.5L466.3,439.2L462.5,444.0ZM321.5,371.0L326.0,369.5L329.0,368.0L331.0,370.0L334.0,369.0L332.0,372.0L329.0,373.0L327.0,377.0L325.0,374.0L322.0,373.0ZM319.8,195.4L321.8,194.4L323.8,197.0L322.8,198.5L320.8,197.5Z"/>
</g>
</g>
<rect x="48.5" y="85.5" width="498.5" height="376.3" fill="none" stroke="#000" stroke-width="1.2"/>
<path d="M547.35,85.5V462.15000000000003H48.5" fill="none" stroke="#000" stroke-width="0.9"/>
<line x1="547.0" y1="103.6" x2="558.8" y2="103.6" stroke="#000" stroke-width="1.15"/>
<text transform="translate(567.9,109.35) scale(1,1.08)" font-size="14.9" stroke="#000" stroke-width="0.2">15°E</text>
<line x1="547.0" y1="178.4" x2="558.8" y2="178.4" stroke="#000" stroke-width="1.15"/>
<text transform="translate(567.9,184.15) scale(1,1.08)" font-size="14.9" stroke="#000" stroke-width="0.2">0°</text>
<line x1="547.0" y1="238.0" x2="558.8" y2="238.0" stroke="#000" stroke-width="1.15"/>
<text transform="translate(567.9,243.75) scale(1,1.08)" font-size="14.9" stroke="#000" stroke-width="0.2">15°W</text>
<line x1="547.0" y1="292.0" x2="558.8" y2="292.0" stroke="#000" stroke-width="1.15"/>
<text transform="translate(567.9,297.75) scale(1,1.08)" font-size="14.9" stroke="#000" stroke-width="0.2">30°W</text>
<line x1="547.0" y1="349.5" x2="558.8" y2="349.5" stroke="#000" stroke-width="1.15"/>
<text transform="translate(567.9,355.25) scale(1,1.08)" font-size="14.9" stroke="#000" stroke-width="0.2">45°W</text>
<line x1="547.0" y1="420.0" x2="558.8" y2="420.0" stroke="#000" stroke-width="1.15"/>
<text transform="translate(567.9,425.75) scale(1,1.08)" font-size="14.9" stroke="#000" stroke-width="0.2">60°W</text>
<text transform="translate(420.6,51.6) scale(1,1.045)" font-size="22.9" font-weight="bold">Valid for: 2007-05-25_00:00:00</text>
<text x="47.2" y="75.7" font-size="17.25" stroke="#000" stroke-width="0.2">Bootstrap Sea Ice Concentrations Nimbus-7 SMMR</text>
<text x="547.7" y="75.7" font-size="17.25" text-anchor="end" stroke="#000" stroke-width="0.2">Fraction (%)</text>
<text x="298" y="480.1" font-size="17.25" text-anchor="middle" stroke="#000" stroke-width="0.2">Fraction [%]</text>
<rect x="54.00" y="494.1" width="24.68" height="33.9" fill="#0000ff"/>
<rect x="78.38" y="494.1" width="24.68" height="33.9" fill="#006cff"/>
<rect x="102.77" y="494.1" width="24.68" height="33.9" fill="#00d0ff"/>
<rect x="127.15" y="494.1" width="24.68" height="33.9" fill="#33ffff"/>
<rect x="151.53" y="494.1" width="24.68" height="33.9" fill="#70ffff"/>
<rect x="175.91" y="494.1" width="24.68" height="33.9" fill="#90ffe6"/>
<rect x="200.30" y="494.1" width="24.68" height="33.9" fill="#50ff80"/>
<rect x="224.68" y="494.1" width="24.68" height="33.9" fill="#00f210"/>
<rect x="249.06" y="494.1" width="24.68" height="33.9" fill="#50ff00"/>
<rect x="273.44" y="494.1" width="24.68" height="33.9" fill="#a0ff00"/>
<rect x="297.82" y="494.1" width="24.68" height="33.9" fill="#c8ff00"/>
<rect x="322.21" y="494.1" width="24.68" height="33.9" fill="#e0ff10"/>
<rect x="346.59" y="494.1" width="24.68" height="33.9" fill="#faff00"/>
<rect x="370.97" y="494.1" width="24.68" height="33.9" fill="#ffe800"/>
<rect x="395.36" y="494.1" width="24.68" height="33.9" fill="#ffcc00"/>
<rect x="419.74" y="494.1" width="24.68" height="33.9" fill="#ffa500"/>
<rect x="444.12" y="494.1" width="24.68" height="33.9" fill="#ff7800"/>
<rect x="468.50" y="494.1" width="24.68" height="33.9" fill="#ff4a00"/>
<rect x="492.88" y="494.1" width="24.68" height="33.9" fill="#ff2800"/>
<rect x="517.27" y="494.1" width="24.38" height="33.9" fill="#ff0000"/>
<text transform="translate(83.28,550) rotate(-90) scale(1,1.08)" font-size="12.5" text-anchor="middle" stroke="#000" stroke-width="0.25">0.1</text>
<text transform="translate(107.67,550) rotate(-90) scale(1,1.08)" font-size="12.5" text-anchor="middle" stroke="#000" stroke-width="0.25">0.15</text>
<text transform="translate(132.05,550) rotate(-90) scale(1,1.08)" font-size="12.5" text-anchor="middle" stroke="#000" stroke-width="0.25">0.2</text>
<text transform="translate(156.43,550) rotate(-90) scale(1,1.08)" font-size="12.5" text-anchor="middle" stroke="#000" stroke-width="0.25">0.25</text>
<text transform="translate(180.81,550) rotate(-90) scale(1,1.08)" font-size="12.5" text-anchor="middle" stroke="#000" stroke-width="0.25">0.3</text>
<text transform="translate(205.20,550) rotate(-90) scale(1,1.08)" font-size="12.5" text-anchor="middle" stroke="#000" stroke-width="0.25">0.35</text>
<text transform="translate(229.58,550) rotate(-90) scale(1,1.08)" font-size="12.5" text-anchor="middle" stroke="#000" stroke-width="0.25">0.4</text>
<text transform="translate(253.96,550) rotate(-90) scale(1,1.08)" font-size="12.5" text-anchor="middle" stroke="#000" stroke-width="0.25">0.45</text>
<text transform="translate(278.34,550) rotate(-90) scale(1,1.08)" font-size="12.5" text-anchor="middle" stroke="#000" stroke-width="0.25">0.5</text>
<text transform="translate(302.72,550) rotate(-90) scale(1,1.08)" font-size="12.5" text-anchor="middle" stroke="#000" stroke-width="0.25">0.55</text>
<text transform="translate(327.11,550) rotate(-90) scale(1,1.08)" font-size="12.5" text-anchor="middle" stroke="#000" stroke-width="0.25">0.6</text>
<text transform="translate(351.49,550) rotate(-90) scale(1,1.08)" font-size="12.5" text-anchor="middle" stroke="#000" stroke-width="0.25">0.65</text>
<text transform="translate(375.87,550) rotate(-90) scale(1,1.08)" font-size="12.5" text-anchor="middle" stroke="#000" stroke-width="0.25">0.7</text>
<text transform="translate(400.25,550) rotate(-90) scale(1,1.08)" font-size="12.5" text-anchor="middle" stroke="#000" stroke-width="0.25">0.75</text>
<text transform="translate(424.64,550) rotate(-90) scale(1,1.08)" font-size="12.5" text-anchor="middle" stroke="#000" stroke-width="0.25">0.8</text>
<text transform="translate(449.02,550) rotate(-90) scale(1,1.08)" font-size="12.5" text-anchor="middle" stroke="#000" stroke-width="0.25">0.85</text>
<text transform="translate(473.40,550) rotate(-90) scale(1,1.08)" font-size="12.5" text-anchor="middle" stroke="#000" stroke-width="0.25">0.9</text>
<text transform="translate(497.78,550) rotate(-90) scale(1,1.08)" font-size="12.5" text-anchor="middle" stroke="#000" stroke-width="0.25">0.95</text>
<text transform="translate(522.17,550) rotate(-90) scale(1,1.08)" font-size="12.5" text-anchor="middle" stroke="#000" stroke-width="0.25">1</text>
</svg></body></html>
